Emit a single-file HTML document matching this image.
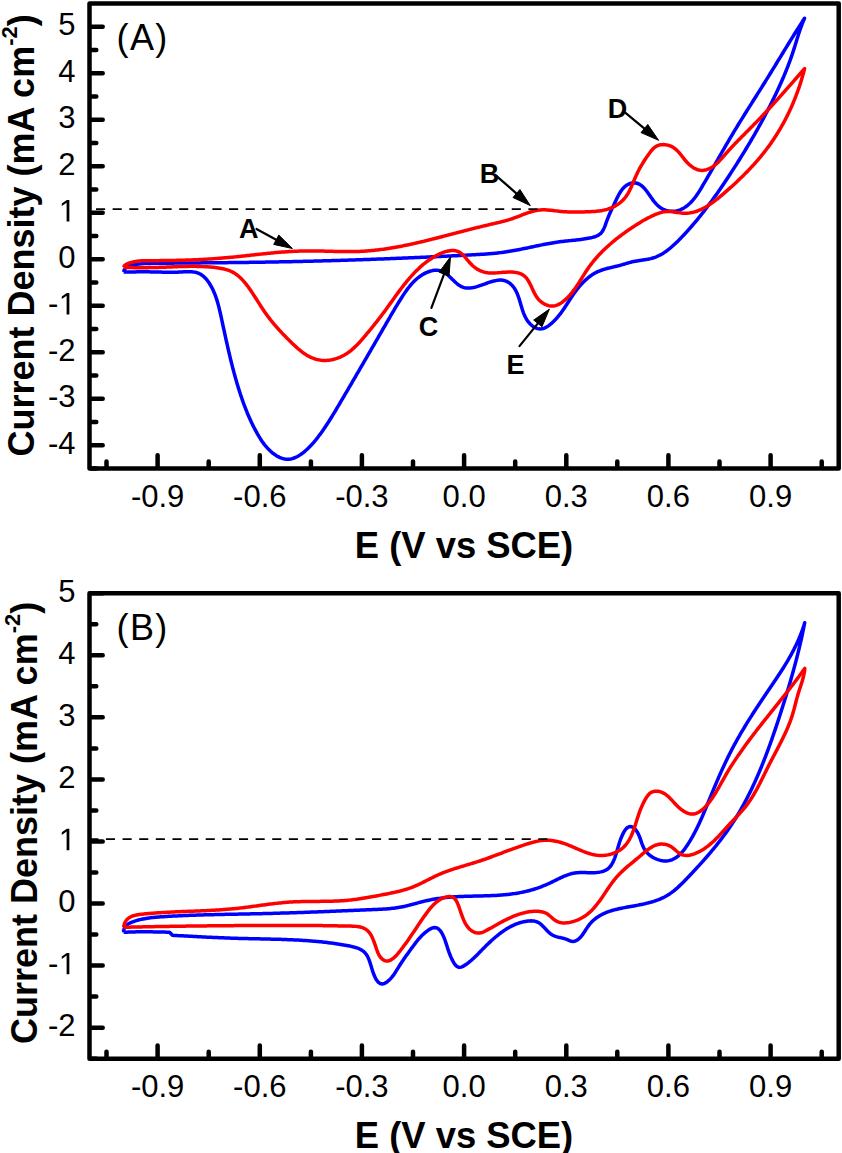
<!DOCTYPE html>
<html><head><meta charset="utf-8"><style>
html,body{margin:0;padding:0;background:#fff;}
svg{display:block;}
text{font-family:"Liberation Sans", sans-serif;fill:#000;}
</style></head><body>
<svg width="842" height="1153" viewBox="0 0 842 1153">
<rect width="842" height="1153" fill="#fff"/>
<path d="M91.5,445.2H102.7M91.5,398.7H102.7M91.5,352.2H102.7M91.5,305.7H102.7M91.5,259.2H102.7M91.5,212.7H102.7M91.5,166.2H102.7M91.5,119.7H102.7M91.5,73.2H102.7M91.5,26.7H102.7M91.5,468.5H96.3M91.5,422.0H96.3M91.5,375.5H96.3M91.5,329.0H96.3M91.5,282.5H96.3M91.5,236.0H96.3M91.5,189.4H96.3M91.5,142.9H96.3M91.5,96.4H96.3M91.5,49.9H96.3M157.6,466.5V455.2M259.8,466.5V455.2M361.9,466.5V455.2M464.1,466.5V455.2M566.3,466.5V455.2M668.4,466.5V455.2M770.6,466.5V455.2M106.5,466.5V461.5M208.7,466.5V461.5M310.9,466.5V461.5M413.0,466.5V461.5M515.2,466.5V461.5M617.3,466.5V461.5M719.5,466.5V461.5M821.7,466.5V461.5" stroke="#000" stroke-width="4.5" stroke-linecap="round" fill="none"/>
<rect x="89.5" y="3.4" width="749.2" height="465.1" fill="none" stroke="#000" stroke-width="4.5" stroke-linejoin="round"/>
<text x="75.6" y="453.9" text-anchor="end" font-size="31">-4</text>
<text x="75.6" y="407.4" text-anchor="end" font-size="31">-3</text>
<text x="75.6" y="360.9" text-anchor="end" font-size="31">-2</text>
<text x="48.04" y="314.4" font-size="31">-</text>
<path transform="translate(58.36,314.4) scale(0.015137,-0.015137)" d="M545,0L545,1237L227,1010L227,1180L560,1409L726,1409L726,0Z" fill="#000"/>
<text x="75.6" y="267.9" text-anchor="end" font-size="31">0</text>
<path transform="translate(58.36,221.4) scale(0.015137,-0.015137)" d="M545,0L545,1237L227,1010L227,1180L560,1409L726,1409L726,0Z" fill="#000"/>
<text x="75.6" y="174.9" text-anchor="end" font-size="31">2</text>
<text x="75.6" y="128.4" text-anchor="end" font-size="31">3</text>
<text x="75.6" y="81.9" text-anchor="end" font-size="31">4</text>
<text x="75.6" y="35.4" text-anchor="end" font-size="31">5</text>
<text x="157.6" y="507.1" text-anchor="middle" font-size="31">-0.9</text>
<text x="259.8" y="507.1" text-anchor="middle" font-size="31">-0.6</text>
<text x="361.9" y="507.1" text-anchor="middle" font-size="31">-0.3</text>
<text x="464.1" y="507.1" text-anchor="middle" font-size="31">0.0</text>
<text x="566.3" y="507.1" text-anchor="middle" font-size="31">0.3</text>
<text x="668.4" y="507.1" text-anchor="middle" font-size="31">0.6</text>
<text x="770.6" y="507.1" text-anchor="middle" font-size="31">0.9</text>
<path d="M123.60,272.00L124.04,270.29 124.78,268.95 125.76,267.92 126.91,267.13 128.19,266.52 129.54,266.01 130.91,265.57 132.30,265.18 133.71,264.84 135.14,264.55 136.59,264.30 138.05,264.09 139.52,263.91 141.00,263.77 142.49,263.65 144.00,263.56 145.51,263.49 147.02,263.44 148.54,263.40 150.07,263.38 151.59,263.36 153.12,263.34 154.64,263.32 156.17,263.30 157.69,263.29 159.21,263.27 160.73,263.25 162.25,263.24 163.77,263.22 165.29,263.21 166.81,263.19 168.33,263.18 169.85,263.16 171.36,263.15 172.88,263.13 174.39,263.12 175.91,263.10 177.42,263.09 178.94,263.07 180.45,263.06 181.96,263.05 183.47,263.03 184.99,263.02 186.50,263.00 188.01,262.99 189.52,262.98 191.03,262.96 192.53,262.95 194.04,262.94 195.55,262.92 197.06,262.91 198.56,262.90 200.07,262.88 201.58,262.87 203.08,262.86 204.59,262.84 206.09,262.83 207.60,262.82 209.10,262.80 210.60,262.79 212.11,262.77 213.61,262.76 215.11,262.75 216.62,262.73 218.12,262.72 219.62,262.70 221.12,262.69 222.63,262.67 224.13,262.66 225.63,262.64 227.13,262.63 228.63,262.61 230.13,262.59 231.63,262.58 233.13,262.56 234.63,262.54 236.13,262.53 237.63,262.51 239.14,262.49 240.64,262.47 242.14,262.46 243.64,262.44 245.14,262.42 246.64,262.40 248.14,262.38 249.64,262.36 251.14,262.34 252.64,262.32 254.14,262.30 255.64,262.28 257.14,262.25 258.64,262.23 260.14,262.21 261.64,262.19 263.14,262.16 264.64,262.14 266.14,262.11 267.64,262.09 269.15,262.06 270.65,262.04 272.15,262.01 273.65,261.98 275.15,261.96 276.65,261.93 278.16,261.90 279.66,261.87 281.16,261.84 282.66,261.81 284.17,261.78 285.67,261.75 287.17,261.72 288.67,261.69 290.18,261.66 291.68,261.63 293.18,261.60 294.69,261.56 296.19,261.53 297.69,261.50 299.20,261.46 300.70,261.43 302.20,261.39 303.71,261.36 305.21,261.32 306.71,261.28 308.22,261.25 309.72,261.21 311.23,261.17 312.73,261.13 314.23,261.10 315.74,261.06 317.24,261.02 318.75,260.98 320.25,260.94 321.76,260.90 323.26,260.86 324.76,260.81 326.27,260.77 327.77,260.73 329.28,260.69 330.78,260.65 332.29,260.60 333.79,260.56 335.30,260.51 336.80,260.47 338.31,260.42 339.81,260.38 341.32,260.33 342.82,260.29 344.32,260.24 345.83,260.19 347.33,260.14 348.84,260.10 350.34,260.05 351.85,260.00 353.35,259.95 354.86,259.90 356.36,259.85 357.87,259.80 359.37,259.75 360.88,259.70 362.38,259.65 363.89,259.59 365.39,259.54 366.90,259.49 368.40,259.44 369.91,259.38 371.41,259.33 372.92,259.27 374.42,259.22 375.93,259.16 377.43,259.11 378.94,259.05 380.44,259.00 381.94,258.94 383.45,258.88 384.95,258.83 386.46,258.77 387.96,258.71 389.47,258.65 390.97,258.59 392.48,258.53 393.98,258.47 395.48,258.41 396.99,258.35 398.49,258.29 400.00,258.23 401.50,258.17 403.00,258.11 404.51,258.04 406.01,257.98 407.52,257.92 409.02,257.85 410.52,257.79 412.03,257.73 413.53,257.66 415.03,257.60 416.54,257.53 418.04,257.47 419.54,257.40 421.05,257.33 422.55,257.27 424.05,257.20 425.56,257.13 427.06,257.06 428.56,256.99 430.06,256.93 431.57,256.86 433.07,256.79 434.57,256.72 436.07,256.65 437.57,256.58 439.08,256.51 440.58,256.43 442.08,256.36 443.58,256.29 445.08,256.22 446.58,256.15 448.08,256.07 449.59,256.00 451.09,255.93 452.59,255.85 454.09,255.78 455.59,255.70 457.09,255.63 458.59,255.55 460.09,255.48 461.59,255.40 463.09,255.32 464.59,255.25 466.09,255.17 467.59,255.09 469.09,255.01 470.59,254.93 472.09,254.86 473.58,254.78 475.08,254.70 476.58,254.61 478.08,254.53 479.58,254.44 481.08,254.35 482.57,254.26 484.07,254.16 485.57,254.06 487.06,253.95 488.56,253.83 490.06,253.71 491.55,253.58 493.05,253.45 494.55,253.30 496.04,253.15 497.54,252.99 499.03,252.81 500.52,252.63 502.02,252.44 503.51,252.23 505.00,252.02 506.50,251.79 507.99,251.56 509.48,251.32 510.97,251.07 512.45,250.81 513.94,250.55 515.43,250.28 516.91,250.00 518.39,249.72 519.88,249.43 521.35,249.14 522.83,248.84 524.31,248.54 525.78,248.24 527.25,247.93 528.72,247.62 530.19,247.31 531.66,247.00 533.13,246.68 534.60,246.37 536.06,246.06 537.53,245.75 539.00,245.44 540.47,245.14 541.93,244.84 543.40,244.55 544.87,244.26 546.35,243.97 547.82,243.69 549.30,243.42 550.77,243.16 552.25,242.91 553.74,242.66 555.22,242.43 556.71,242.20 558.20,241.99 559.70,241.79 561.20,241.60 562.70,241.42 564.20,241.25 565.71,241.09 567.21,240.93 568.72,240.78 570.23,240.62 571.74,240.47 573.25,240.32 574.75,240.16 576.25,239.99 577.75,239.82 579.25,239.64 580.74,239.45 582.23,239.25 583.71,239.04 585.18,238.81 586.65,238.56 588.12,238.29 589.57,238.00 591.02,237.69 592.45,237.35 593.87,236.97 595.25,236.53 596.58,236.02 597.85,235.41 599.05,234.70 600.17,233.87 601.19,232.90 602.10,231.77 602.92,230.50 603.64,229.11 604.29,227.64 604.90,226.11 605.47,224.56 606.02,223.00 606.57,221.48 607.12,219.99 607.69,218.55 608.26,217.13 608.83,215.75 609.42,214.39 610.01,213.04 610.60,211.71 611.21,210.40 611.82,209.09 612.43,207.78 613.06,206.47 613.69,205.15 614.32,203.82 614.97,202.47 615.62,201.10 616.27,199.72 616.94,198.31 617.63,196.91 618.35,195.51 619.10,194.13 619.88,192.78 620.71,191.47 621.59,190.21 622.52,189.02 623.52,187.89 624.59,186.84 625.73,185.89 626.96,185.04 628.27,184.31 629.66,183.71 631.10,183.25 632.57,182.95 634.05,182.84 635.52,182.93 636.94,183.23 638.32,183.73 639.64,184.39 640.89,185.19 642.08,186.11 643.20,187.11 644.24,188.18 645.23,189.31 646.18,190.49 647.09,191.71 647.98,192.96 648.87,194.23 649.76,195.52 650.65,196.81 651.56,198.09 652.48,199.36 653.41,200.60 654.38,201.82 655.37,203.00 656.39,204.12 657.45,205.19 658.56,206.20 659.71,207.13 660.91,207.98 662.17,208.73 663.48,209.40 664.84,209.96 666.24,210.43 667.67,210.80 669.12,211.07 670.59,211.23 672.07,211.30 673.56,211.27 675.04,211.13 676.50,210.88 677.95,210.53 679.37,210.08 680.76,209.53 682.13,208.89 683.46,208.17 684.77,207.37 686.04,206.50 687.28,205.56 688.48,204.57 689.64,203.52 690.77,202.44 691.85,201.31 692.89,200.16 693.89,198.98 694.84,197.78 695.75,196.57 696.63,195.34 697.47,194.10 698.29,192.85 699.08,191.60 699.86,190.33 700.63,189.06 701.39,187.79 702.15,186.51 702.91,185.23 703.67,183.95 704.42,182.67 705.18,181.38 705.93,180.09 706.68,178.80 707.44,177.51 708.19,176.22 708.94,174.92 709.69,173.62 710.43,172.33 711.18,171.03 711.93,169.73 712.68,168.42 713.42,167.12 714.17,165.82 714.92,164.51 715.66,163.21 716.41,161.90 717.16,160.60 717.91,159.29 718.65,157.98 719.40,156.67 720.15,155.37 720.90,154.06 721.65,152.75 722.40,151.45 723.16,150.14 723.91,148.83 724.66,147.53 725.42,146.22 726.18,144.92 726.94,143.62 727.70,142.32 728.46,141.01 729.22,139.71 729.99,138.42 730.76,137.12 731.53,135.82 732.30,134.53 733.07,133.24 733.85,131.95 734.63,130.66 735.41,129.37 736.19,128.09 736.97,126.80 737.76,125.52 738.54,124.23 739.33,122.95 740.12,121.67 740.91,120.39 741.70,119.11 742.50,117.84 743.29,116.56 744.09,115.29 744.88,114.01 745.68,112.74 746.48,111.46 747.28,110.19 748.08,108.92 748.88,107.64 749.68,106.37 750.48,105.10 751.28,103.83 752.08,102.56 752.88,101.29 753.68,100.02 754.48,98.75 755.29,97.48 756.09,96.21 756.89,94.94 757.69,93.67 758.49,92.39 759.29,91.12 760.09,89.85 760.89,88.58 761.69,87.31 762.49,86.03 763.29,84.76 764.09,83.49 764.88,82.21 765.68,80.94 766.47,79.66 767.26,78.38 768.06,77.10 768.85,75.82 769.64,74.54 770.42,73.26 771.21,71.98 772.00,70.70 772.79,69.42 773.57,68.14 774.36,66.85 775.14,65.57 775.92,64.28 776.71,63.00 777.49,61.71 778.27,60.43 779.06,59.15 779.84,57.86 780.62,56.57 781.40,55.29 782.19,54.01 782.97,52.72 783.76,51.44 784.54,50.15 785.32,48.87 786.11,47.58 786.89,46.30 787.68,45.02 788.47,43.74 789.26,42.46 790.05,41.17 790.84,39.89 791.63,38.62 792.42,37.34 793.21,36.06 794.01,34.78 794.81,33.51 795.60,32.23 796.40,30.96 797.20,29.69 798.01,28.42 798.81,27.15 799.62,25.88 800.43,24.61 801.24,23.35 802.05,22.08 802.86,20.82 803.68,19.56 804.50,18.30L803.90,19.69 803.31,21.08 802.74,22.48 802.19,23.88 801.66,25.29 801.14,26.70 800.63,28.11 800.14,29.53 799.65,30.95 799.18,32.38 798.71,33.80 798.25,35.23 797.80,36.66 797.35,38.09 796.90,39.52 796.46,40.96 796.02,42.39 795.58,43.82 795.14,45.26 794.69,46.69 794.24,48.12 793.79,49.55 793.33,50.98 792.86,52.41 792.39,53.83 791.91,55.25 791.42,56.67 790.92,58.09 790.41,59.50 789.90,60.92 789.38,62.33 788.85,63.73 788.32,65.14 787.77,66.54 787.23,67.94 786.67,69.34 786.11,70.74 785.54,72.13 784.97,73.53 784.39,74.92 783.81,76.31 783.22,77.69 782.62,79.07 782.02,80.46 781.41,81.83 780.80,83.21 780.18,84.59 779.56,85.96 778.94,87.33 778.30,88.70 777.67,90.06 777.03,91.43 776.39,92.79 775.74,94.15 775.09,95.51 774.44,96.86 773.78,98.21 773.12,99.57 772.45,100.91 771.78,102.26 771.11,103.61 770.44,104.95 769.76,106.29 769.08,107.63 768.39,108.97 767.71,110.30 767.01,111.63 766.32,112.96 765.62,114.29 764.92,115.62 764.22,116.95 763.51,118.27 762.80,119.59 762.08,120.91 761.37,122.23 760.65,123.55 759.92,124.86 759.20,126.17 758.47,127.48 757.73,128.79 757.00,130.10 756.26,131.41 755.52,132.71 754.78,134.01 754.03,135.31 753.28,136.61 752.53,137.91 751.77,139.21 751.02,140.50 750.25,141.79 749.49,143.09 748.73,144.38 747.96,145.66 747.19,146.95 746.41,148.24 745.63,149.52 744.86,150.80 744.07,152.09 743.29,153.37 742.50,154.64 741.71,155.92 740.92,157.20 740.13,158.47 739.33,159.74 738.53,161.02 737.73,162.29 736.93,163.56 736.12,164.83 735.31,166.09 734.50,167.36 733.69,168.62 732.87,169.89 732.06,171.15 731.24,172.41 730.41,173.67 729.59,174.93 728.76,176.19 727.94,177.44 727.11,178.70 726.27,179.95 725.44,181.21 724.60,182.46 723.76,183.71 722.92,184.96 722.07,186.20 721.22,187.45 720.37,188.69 719.52,189.93 718.66,191.17 717.80,192.40 716.93,193.64 716.06,194.87 715.19,196.10 714.32,197.32 713.44,198.55 712.56,199.77 711.68,200.98 710.79,202.20 709.89,203.41 709.00,204.62 708.10,205.83 707.19,207.03 706.28,208.23 705.37,209.42 704.45,210.62 703.53,211.80 702.61,212.99 701.67,214.17 700.74,215.35 699.80,216.52 698.86,217.69 697.91,218.86 696.95,220.02 695.99,221.18 695.03,222.33 694.06,223.48 693.08,224.62 692.10,225.76 691.12,226.89 690.13,228.02 689.13,229.15 688.13,230.27 687.12,231.38 686.11,232.49 685.09,233.60 684.06,234.70 683.03,235.79 682.00,236.88 680.95,237.96 679.90,239.04 678.85,240.11 677.79,241.17 676.71,242.23 675.63,243.27 674.54,244.30 673.44,245.31 672.33,246.31 671.20,247.29 670.06,248.24 668.91,249.18 667.74,250.08 666.55,250.96 665.34,251.81 664.11,252.63 662.87,253.41 661.60,254.16 660.31,254.87 659.00,255.54 657.66,256.17 656.30,256.76 654.91,257.30 653.50,257.79 652.05,258.23 650.58,258.62 649.08,258.96 647.57,259.27 646.03,259.54 644.48,259.79 642.93,260.03 641.38,260.25 639.82,260.47 638.28,260.70 636.74,260.94 635.22,261.21 633.72,261.50 632.25,261.82 630.80,262.18 629.37,262.57 627.96,262.97 626.55,263.40 625.15,263.82 623.74,264.25 622.34,264.68 620.92,265.09 619.49,265.49 618.04,265.86 616.58,266.22 615.11,266.56 613.64,266.90 612.15,267.24 610.67,267.59 609.19,267.94 607.71,268.30 606.24,268.69 604.78,269.10 603.33,269.54 601.90,270.01 600.49,270.53 599.10,271.08 597.74,271.69 596.40,272.34 595.08,273.05 593.80,273.79 592.53,274.58 591.30,275.40 590.08,276.27 588.89,277.17 587.73,278.11 586.58,279.08 585.47,280.08 584.37,281.11 583.30,282.17 582.25,283.25 581.22,284.36 580.22,285.48 579.24,286.63 578.28,287.79 577.34,288.97 576.42,290.17 575.53,291.37 574.65,292.59 573.78,293.82 572.93,295.05 572.09,296.30 571.26,297.54 570.43,298.79 569.61,300.05 568.80,301.30 567.99,302.56 567.17,303.81 566.36,305.06 565.54,306.30 564.72,307.54 563.89,308.77 563.04,309.99 562.19,311.20 561.32,312.41 560.43,313.60 559.52,314.78 558.57,315.96 557.60,317.13 556.59,318.29 555.54,319.44 554.44,320.59 553.30,321.73 552.11,322.84 550.89,323.91 549.64,324.93 548.36,325.86 547.06,326.70 545.74,327.43 544.40,328.04 543.06,328.50 541.72,328.81 540.37,328.93 539.03,328.87 537.71,328.63 536.40,328.22 535.12,327.66 533.87,326.96 532.67,326.14 531.51,325.21 530.41,324.18 529.36,323.08 528.39,321.91 527.49,320.69 526.66,319.42 525.89,318.11 525.19,316.75 524.53,315.37 523.92,313.95 523.36,312.51 522.83,311.04 522.33,309.56 521.85,308.06 521.40,306.55 520.95,305.03 520.51,303.52 520.07,302.00 519.62,300.50 519.16,299.00 518.68,297.53 518.16,296.07 517.62,294.63 517.04,293.23 516.41,291.86 515.73,290.53 514.98,289.24 514.18,287.99 513.30,286.80 512.34,285.66 511.31,284.59 510.21,283.60 509.05,282.72 507.85,281.95 506.60,281.32 505.33,280.82 504.02,280.47 502.68,280.23 501.32,280.11 499.94,280.10 498.53,280.18 497.10,280.35 495.66,280.60 494.20,280.92 492.72,281.30 491.23,281.73 489.74,282.20 488.23,282.71 486.72,283.24 485.20,283.78 483.69,284.33 482.17,284.87 480.66,285.40 479.14,285.91 477.64,286.39 476.14,286.83 474.66,287.21 473.19,287.54 471.73,287.80 470.29,287.98 468.86,288.08 467.46,288.08 466.08,287.97 464.72,287.76 463.39,287.42 462.09,286.94 460.82,286.33 459.57,285.59 458.35,284.74 457.15,283.79 455.96,282.77 454.79,281.69 453.62,280.57 452.45,279.43 451.29,278.29 450.11,277.15 448.93,276.05 447.73,274.99 446.52,274.00 445.28,273.09 444.02,272.29 442.72,271.60 441.39,271.04 440.03,270.64 438.63,270.37 437.21,270.23 435.77,270.22 434.32,270.32 432.86,270.53 431.41,270.85 429.95,271.25 428.51,271.74 427.09,272.30 425.69,272.93 424.32,273.62 422.99,274.37 421.69,275.16 420.44,275.99 419.22,276.87 418.03,277.78 416.88,278.74 415.76,279.73 414.67,280.75 413.61,281.80 412.58,282.89 411.57,284.00 410.59,285.14 409.63,286.30 408.69,287.48 407.77,288.68 406.87,289.89 405.98,291.12 405.12,292.37 404.26,293.62 403.42,294.88 402.59,296.15 401.76,297.42 400.95,298.70 400.14,299.98 399.34,301.26 398.55,302.54 397.76,303.82 396.98,305.11 396.20,306.40 395.43,307.69 394.66,308.98 393.90,310.27 393.14,311.57 392.38,312.86 391.62,314.16 390.87,315.45 390.12,316.75 389.37,318.05 388.62,319.35 387.87,320.65 387.12,321.94 386.37,323.24 385.62,324.54 384.87,325.84 384.12,327.14 383.37,328.44 382.62,329.74 381.87,331.03 381.12,332.33 380.37,333.63 379.62,334.93 378.87,336.23 378.12,337.53 377.37,338.83 376.62,340.13 375.87,341.43 375.12,342.73 374.36,344.03 373.61,345.33 372.86,346.62 372.11,347.92 371.36,349.22 370.60,350.52 369.85,351.82 369.10,353.12 368.35,354.42 367.59,355.72 366.84,357.02 366.09,358.32 365.33,359.62 364.58,360.92 363.83,362.22 363.07,363.52 362.32,364.82 361.56,366.12 360.81,367.42 360.05,368.72 359.30,370.02 358.54,371.32 357.78,372.62 357.03,373.92 356.27,375.22 355.51,376.52 354.76,377.82 354.00,379.12 353.24,380.41 352.48,381.71 351.72,383.01 350.97,384.31 350.21,385.61 349.45,386.91 348.69,388.21 347.93,389.51 347.17,390.81 346.40,392.11 345.64,393.41 344.88,394.71 344.12,396.01 343.36,397.31 342.59,398.61 341.83,399.90 341.07,401.20 340.30,402.50 339.54,403.80 338.77,405.10 338.01,406.40 337.24,407.70 336.47,408.99 335.70,410.29 334.93,411.58 334.15,412.87 333.37,414.16 332.59,415.44 331.81,416.72 331.02,418.00 330.22,419.27 329.42,420.54 328.62,421.81 327.81,423.07 327.00,424.32 326.18,425.57 325.35,426.81 324.52,428.05 323.67,429.28 322.83,430.50 321.97,431.72 321.10,432.92 320.23,434.12 319.35,435.31 318.46,436.49 317.55,437.66 316.64,438.82 315.71,439.98 314.76,441.12 313.80,442.26 312.81,443.39 311.80,444.51 310.76,445.62 309.69,446.73 308.60,447.82 307.46,448.91 306.30,449.99 305.11,451.04 303.89,452.06 302.64,453.04 301.37,453.98 300.08,454.87 298.77,455.70 297.45,456.46 296.10,457.15 294.75,457.75 293.38,458.26 292.00,458.68 290.61,458.99 289.22,459.19 287.83,459.28 286.43,459.23 285.04,459.07 283.64,458.79 282.26,458.41 280.89,457.92 279.52,457.34 278.18,456.67 276.85,455.92 275.54,455.10 274.26,454.21 273.01,453.27 271.78,452.27 270.59,451.22 269.44,450.13 268.32,449.01 267.25,447.87 266.22,446.71 265.23,445.53 264.28,444.33 263.37,443.12 262.49,441.90 261.64,440.66 260.81,439.41 260.01,438.15 259.23,436.88 258.47,435.60 257.72,434.32 256.98,433.02 256.26,431.72 255.54,430.41 254.84,429.09 254.15,427.77 253.47,426.44 252.80,425.10 252.14,423.75 251.50,422.40 250.86,421.05 250.23,419.69 249.62,418.32 249.01,416.95 248.41,415.57 247.82,414.19 247.25,412.80 246.68,411.41 246.12,410.02 245.56,408.62 245.02,407.21 244.49,405.81 243.96,404.40 243.44,402.98 242.93,401.57 242.43,400.15 241.93,398.73 241.44,397.30 240.96,395.87 240.48,394.45 240.01,393.01 239.55,391.58 239.10,390.15 238.65,388.71 238.20,387.28 237.77,385.84 237.33,384.40 236.91,382.96 236.49,381.52 236.07,380.08 235.66,378.64 235.25,377.19 234.85,375.75 234.45,374.30 234.06,372.86 233.67,371.41 233.29,369.96 232.91,368.51 232.54,367.06 232.17,365.61 231.80,364.16 231.43,362.70 231.07,361.25 230.72,359.79 230.36,358.33 230.01,356.88 229.66,355.42 229.32,353.96 228.98,352.50 228.64,351.04 228.30,349.58 227.96,348.11 227.63,346.65 227.30,345.18 226.97,343.72 226.64,342.25 226.31,340.78 225.99,339.32 225.67,337.85 225.34,336.38 225.02,334.91 224.70,333.43 224.38,331.96 224.06,330.49 223.74,329.01 223.43,327.54 223.11,326.06 222.79,324.59 222.47,323.11 222.15,321.63 221.83,320.15 221.51,318.67 221.19,317.19 220.87,315.71 220.55,314.23 220.22,312.75 219.88,311.28 219.53,309.80 219.18,308.33 218.81,306.87 218.43,305.41 218.04,303.95 217.63,302.50 217.20,301.06 216.75,299.62 216.29,298.19 215.80,296.77 215.28,295.36 214.74,293.97 214.18,292.58 213.58,291.20 212.95,289.84 212.30,288.49 211.61,287.15 210.88,285.83 210.12,284.53 209.32,283.25 208.48,282.00 207.60,280.79 206.68,279.62 205.71,278.51 204.69,277.46 203.63,276.48 202.51,275.57 201.35,274.75 200.13,274.02 198.85,273.38 197.52,272.86 196.13,272.44 194.69,272.12 193.21,271.90 191.68,271.76 190.12,271.68 188.54,271.66 186.94,271.69 185.33,271.75 183.72,271.84 182.11,271.93 180.51,272.02 178.92,272.10 177.36,272.17 175.81,272.22 174.28,272.25 172.76,272.27 171.26,272.28 169.77,272.28 168.28,272.26 166.81,272.24 165.34,272.22 163.88,272.19 162.42,272.15 160.97,272.11 159.51,272.07 158.06,272.03 156.60,271.99 155.14,271.96 153.67,271.93 152.19,271.90 150.71,271.88 149.22,271.86 147.72,271.85 146.22,271.84 144.72,271.84 143.21,271.84 141.69,271.84 140.18,271.85 138.66,271.86 137.15,271.87 135.63,271.88 134.12,271.90 132.60,271.91 131.09,271.93 129.58,271.94 128.08,271.96 126.58,271.97 125.09,271.99 123.60,272.00" stroke="#00f" stroke-width="3.5" fill="none" stroke-linejoin="round"/><path d="M123.60,267.20L124.27,265.88 125.25,264.94 126.42,264.24 127.67,263.67 128.96,263.16 130.29,262.72 131.64,262.33 133.02,261.99 134.43,261.70 135.86,261.46 137.31,261.26 138.78,261.09 140.27,260.96 141.77,260.86 143.29,260.79 144.82,260.73 146.35,260.70 147.89,260.67 149.44,260.66 150.99,260.66 152.53,260.66 154.08,260.65 155.62,260.65 157.16,260.64 158.70,260.63 160.23,260.62 161.76,260.61 163.29,260.60 164.82,260.58 166.34,260.56 167.87,260.54 169.39,260.52 170.91,260.49 172.42,260.47 173.94,260.44 175.45,260.41 176.96,260.37 178.47,260.34 179.98,260.30 181.48,260.26 182.99,260.21 184.49,260.17 185.99,260.12 187.49,260.07 188.99,260.02 190.49,259.96 191.98,259.90 193.48,259.84 194.97,259.78 196.47,259.71 197.96,259.64 199.45,259.57 200.95,259.49 202.44,259.41 203.93,259.33 205.42,259.25 206.91,259.16 208.40,259.07 209.89,258.98 211.38,258.88 212.87,258.78 214.36,258.68 215.85,258.57 217.34,258.46 218.83,258.35 220.32,258.23 221.81,258.11 223.30,257.99 224.79,257.86 226.28,257.73 227.77,257.60 229.27,257.46 230.76,257.32 232.26,257.18 233.75,257.03 235.25,256.88 236.74,256.73 238.24,256.58 239.74,256.42 241.24,256.26 242.74,256.10 244.24,255.93 245.74,255.77 247.24,255.61 248.74,255.44 250.24,255.27 251.74,255.11 253.24,254.94 254.74,254.78 256.24,254.61 257.74,254.45 259.24,254.28 260.74,254.12 262.24,253.96 263.74,253.80 265.24,253.64 266.74,253.49 268.23,253.33 269.73,253.18 271.23,253.03 272.73,252.89 274.22,252.75 275.72,252.61 277.21,252.48 278.71,252.35 280.20,252.23 281.69,252.11 283.18,251.99 284.68,251.88 286.17,251.78 287.66,251.68 289.15,251.58 290.64,251.49 292.13,251.41 293.62,251.33 295.11,251.26 296.60,251.19 298.09,251.13 299.58,251.08 301.08,251.03 302.57,250.99 304.06,250.96 305.56,250.94 307.05,250.92 308.55,250.91 310.05,250.90 311.55,250.91 313.05,250.92 314.55,250.93 316.05,250.95 317.55,250.97 319.05,251.00 320.55,251.03 322.06,251.07 323.56,251.10 325.07,251.14 326.57,251.18 328.08,251.22 329.58,251.26 331.09,251.30 332.59,251.34 334.10,251.38 335.61,251.42 337.11,251.46 338.62,251.49 340.12,251.52 341.63,251.55 343.14,251.57 344.64,251.59 346.15,251.60 347.65,251.60 349.16,251.60 350.66,251.60 352.17,251.58 353.67,251.56 355.17,251.53 356.68,251.50 358.18,251.45 359.68,251.39 361.18,251.32 362.68,251.24 364.18,251.16 365.67,251.06 367.17,250.95 368.67,250.83 370.16,250.71 371.66,250.57 373.15,250.43 374.65,250.27 376.14,250.11 377.63,249.94 379.12,249.76 380.61,249.57 382.10,249.38 383.59,249.17 385.07,248.96 386.56,248.74 388.05,248.52 389.53,248.28 391.02,248.04 392.50,247.80 393.98,247.54 395.46,247.28 396.95,247.02 398.43,246.74 399.90,246.47 401.38,246.18 402.86,245.89 404.34,245.59 405.81,245.29 407.29,244.99 408.76,244.68 410.24,244.36 411.71,244.04 413.18,243.72 414.65,243.39 416.13,243.05 417.59,242.72 419.06,242.38 420.53,242.03 422.00,241.68 423.47,241.33 424.93,240.98 426.40,240.62 427.86,240.26 429.32,239.90 430.79,239.53 432.25,239.17 433.71,238.80 435.17,238.43 436.63,238.05 438.08,237.68 439.54,237.30 441.00,236.93 442.45,236.55 443.91,236.17 445.36,235.79 446.82,235.41 448.27,235.03 449.72,234.65 451.17,234.27 452.62,233.89 454.07,233.51 455.52,233.13 456.97,232.75 458.42,232.37 459.87,231.99 461.32,231.61 462.77,231.24 464.21,230.86 465.66,230.48 467.11,230.11 468.56,229.74 470.01,229.37 471.46,229.00 472.91,228.63 474.36,228.27 475.81,227.90 477.27,227.54 478.72,227.18 480.17,226.83 481.63,226.47 483.09,226.12 484.54,225.77 486.00,225.43 487.46,225.08 488.92,224.74 490.38,224.41 491.84,224.07 493.31,223.74 494.77,223.41 496.24,223.07 497.70,222.73 499.16,222.39 500.62,222.04 502.08,221.67 503.53,221.30 504.99,220.91 506.43,220.51 507.88,220.09 509.32,219.65 510.75,219.20 512.18,218.72 513.60,218.22 515.02,217.70 516.43,217.16 517.84,216.62 519.25,216.07 520.66,215.52 522.06,214.97 523.47,214.43 524.88,213.90 526.29,213.38 527.70,212.88 529.12,212.40 530.54,211.96 531.96,211.54 533.40,211.16 534.84,210.81 536.29,210.52 537.75,210.26 539.22,210.07 540.70,209.92 542.19,209.84 543.69,209.81 545.21,209.84 546.73,209.91 548.25,210.02 549.78,210.16 551.32,210.32 552.85,210.50 554.38,210.69 555.91,210.88 557.44,211.07 558.96,211.24 560.46,211.40 561.96,211.53 563.46,211.65 564.94,211.74 566.42,211.82 567.90,211.88 569.37,211.93 570.84,211.97 572.31,211.99 573.78,212.00 575.26,212.00 576.73,211.99 578.22,211.98 579.70,211.96 581.19,211.94 582.69,211.91 584.20,211.88 585.72,211.84 587.24,211.80 588.77,211.75 590.30,211.69 591.83,211.61 593.36,211.51 594.89,211.40 596.41,211.26 597.93,211.09 599.44,210.90 600.94,210.67 602.43,210.41 603.90,210.11 605.37,209.78 606.81,209.40 608.24,208.97 609.65,208.50 611.04,207.98 612.40,207.40 613.75,206.77 615.06,206.08 616.34,205.34 617.60,204.54 618.81,203.69 619.99,202.78 621.13,201.83 622.23,200.82 623.28,199.76 624.28,198.66 625.22,197.51 626.12,196.32 626.96,195.08 627.76,193.81 628.51,192.51 629.23,191.18 629.92,189.82 630.58,188.44 631.21,187.05 631.83,185.65 632.43,184.23 633.02,182.82 633.61,181.41 634.20,180.00 634.79,178.59 635.39,177.21 636.00,175.84 636.63,174.48 637.27,173.14 637.93,171.81 638.60,170.50 639.28,169.19 639.99,167.90 640.70,166.61 641.44,165.33 642.19,164.06 642.96,162.79 643.75,161.53 644.56,160.27 645.38,159.00 646.23,157.74 647.10,156.48 647.98,155.21 648.89,153.94 649.82,152.67 650.78,151.41 651.77,150.20 652.82,149.05 653.92,147.99 655.09,147.06 656.33,146.26 657.65,145.62 659.04,145.14 660.48,144.81 661.96,144.63 663.46,144.58 664.97,144.67 666.48,144.88 667.97,145.21 669.44,145.65 670.85,146.20 672.21,146.85 673.49,147.60 674.70,148.44 675.84,149.35 676.92,150.33 677.96,151.37 678.96,152.46 679.93,153.60 680.88,154.77 681.82,155.96 682.76,157.16 683.71,158.37 684.68,159.58 685.67,160.77 686.70,161.94 687.78,163.08 688.90,164.18 690.06,165.23 691.27,166.21 692.51,167.12 693.79,167.93 695.11,168.66 696.46,169.27 697.83,169.76 699.23,170.13 700.66,170.35 702.11,170.42 703.57,170.32 705.05,170.08 706.52,169.70 707.96,169.20 709.38,168.59 710.75,167.90 712.06,167.14 713.32,166.31 714.52,165.42 715.69,164.48 716.81,163.49 717.90,162.46 718.96,161.40 720.00,160.31 721.02,159.19 722.02,158.06 723.02,156.92 724.01,155.78 725.01,154.63 726.01,153.50 727.01,152.37 728.02,151.25 729.04,150.13 730.06,149.02 731.08,147.91 732.11,146.81 733.14,145.72 734.18,144.63 735.22,143.54 736.26,142.46 737.31,141.38 738.36,140.31 739.41,139.24 740.46,138.17 741.51,137.10 742.57,136.03 743.63,134.97 744.68,133.90 745.74,132.84 746.80,131.78 747.86,130.71 748.91,129.65 749.97,128.59 751.03,127.52 752.08,126.46 753.13,125.39 754.18,124.32 755.23,123.25 756.28,122.17 757.32,121.10 758.37,120.02 759.41,118.93 760.44,117.85 761.48,116.76 762.51,115.67 763.54,114.57 764.57,113.48 765.60,112.38 766.62,111.28 767.64,110.18 768.67,109.08 769.68,107.97 770.70,106.86 771.72,105.75 772.73,104.64 773.74,103.53 774.75,102.41 775.76,101.30 776.77,100.18 777.78,99.06 778.78,97.94 779.79,96.82 780.79,95.70 781.79,94.57 782.79,93.45 783.79,92.32 784.79,91.20 785.78,90.07 786.78,88.94 787.77,87.81 788.77,86.68 789.76,85.55 790.75,84.42 791.75,83.29 792.74,82.16 793.73,81.03 794.72,79.90 795.71,78.77 796.70,77.64 797.69,76.51 798.67,75.38 799.66,74.25 800.65,73.12 801.64,71.99 802.63,70.86 803.61,69.73 804.60,68.60L804.23,70.06 803.84,71.53 803.45,72.98 803.05,74.44 802.64,75.89 802.23,77.34 801.80,78.79 801.36,80.23 800.92,81.67 800.47,83.11 800.00,84.54 799.53,85.97 799.05,87.40 798.56,88.82 798.06,90.24 797.56,91.66 797.04,93.07 796.51,94.48 795.98,95.88 795.44,97.28 794.88,98.68 794.32,100.07 793.75,101.46 793.17,102.85 792.58,104.23 791.99,105.60 791.38,106.97 790.77,108.34 790.14,109.71 789.51,111.07 788.87,112.42 788.21,113.77 787.55,115.12 786.88,116.46 786.21,117.80 785.52,119.13 784.82,120.45 784.12,121.78 783.40,123.09 782.68,124.41 781.95,125.71 781.20,127.02 780.45,128.31 779.69,129.60 778.92,130.89 778.15,132.17 777.36,133.45 776.56,134.72 775.76,135.99 774.94,137.24 774.12,138.50 773.29,139.75 772.44,140.99 771.59,142.23 770.73,143.46 769.86,144.69 768.99,145.90 768.10,147.12 767.20,148.33 766.30,149.53 765.38,150.72 764.46,151.91 763.53,153.10 762.59,154.27 761.64,155.44 760.68,156.61 759.71,157.77 758.74,158.92 757.76,160.07 756.77,161.20 755.77,162.34 754.77,163.46 753.76,164.59 752.75,165.70 751.72,166.81 750.70,167.91 749.67,169.00 748.63,170.09 747.59,171.18 746.54,172.25 745.49,173.32 744.43,174.38 743.37,175.44 742.31,176.49 741.24,177.54 740.17,178.57 739.10,179.60 738.02,180.63 736.94,181.65 735.86,182.66 734.77,183.67 733.68,184.67 732.59,185.67 731.49,186.67 730.38,187.66 729.27,188.66 728.15,189.65 727.03,190.64 725.90,191.63 724.76,192.62 723.61,193.61 722.46,194.61 721.30,195.60 720.12,196.58 718.94,197.56 717.75,198.54 716.55,199.50 715.34,200.45 714.12,201.38 712.90,202.29 711.66,203.18 710.41,204.06 709.15,204.90 707.88,205.72 706.60,206.51 705.31,207.27 704.00,207.99 702.69,208.68 701.36,209.32 700.02,209.93 698.67,210.49 697.31,211.01 695.93,211.48 694.54,211.90 693.14,212.26 691.73,212.57 690.30,212.83 688.86,213.02 687.41,213.15 685.94,213.22 684.45,213.22 682.96,213.15 681.45,213.02 679.93,212.84 678.40,212.63 676.87,212.40 675.33,212.16 673.80,211.94 672.27,211.74 670.75,211.58 669.24,211.47 667.74,211.44 666.26,211.49 664.79,211.64 663.34,211.89 661.91,212.22 660.50,212.63 659.10,213.10 657.70,213.61 656.32,214.15 654.94,214.72 653.57,215.32 652.21,215.94 650.86,216.58 649.51,217.24 648.17,217.93 646.84,218.63 645.52,219.35 644.20,220.09 642.88,220.84 641.58,221.61 640.28,222.39 638.98,223.18 637.69,223.99 636.41,224.80 635.13,225.62 633.86,226.45 632.59,227.28 631.33,228.13 630.07,228.97 628.82,229.82 627.58,230.68 626.34,231.55 625.10,232.42 623.88,233.30 622.66,234.19 621.45,235.08 620.24,235.98 619.05,236.89 617.86,237.81 616.67,238.73 615.50,239.67 614.34,240.61 613.18,241.56 612.03,242.52 610.90,243.49 609.77,244.47 608.65,245.46 607.54,246.45 606.44,247.46 605.35,248.48 604.28,249.51 603.21,250.55 602.15,251.60 601.11,252.66 600.08,253.73 599.06,254.81 598.05,255.91 597.05,257.01 596.07,258.13 595.10,259.26 594.14,260.41 593.19,261.56 592.26,262.73 591.34,263.91 590.44,265.11 589.55,266.32 588.68,267.54 587.82,268.78 586.97,270.02 586.13,271.29 585.31,272.56 584.49,273.83 583.68,275.12 582.87,276.40 582.07,277.70 581.26,278.99 580.45,280.28 579.64,281.57 578.82,282.85 577.99,284.13 577.15,285.40 576.30,286.66 575.44,287.91 574.56,289.15 573.66,290.38 572.75,291.58 571.81,292.77 570.84,293.94 569.85,295.09 568.83,296.21 567.78,297.31 566.70,298.39 565.59,299.43 564.44,300.44 563.26,301.41 562.04,302.33 560.79,303.17 559.52,303.93 558.22,304.60 556.89,305.15 555.54,305.59 554.17,305.89 552.78,306.05 551.38,306.05 549.97,305.91 548.56,305.64 547.17,305.23 545.80,304.70 544.45,304.05 543.15,303.30 541.89,302.44 540.69,301.49 539.56,300.45 538.50,299.33 537.52,298.14 536.62,296.88 535.78,295.57 535.00,294.21 534.26,292.82 533.56,291.39 532.88,289.95 532.21,288.49 531.54,287.04 530.87,285.59 530.18,284.18 529.47,282.80 528.74,281.46 527.96,280.19 527.14,278.99 526.26,277.87 525.31,276.84 524.30,275.92 523.20,275.12 522.03,274.43 520.79,273.84 519.50,273.34 518.14,272.94 516.74,272.62 515.29,272.37 513.80,272.20 512.28,272.08 510.74,272.03 509.18,272.02 507.61,272.05 506.03,272.13 504.45,272.22 502.87,272.35 501.30,272.48 499.74,272.62 498.18,272.75 496.64,272.87 495.10,272.96 493.58,273.02 492.08,273.04 490.59,273.02 489.12,272.93 487.67,272.77 486.23,272.55 484.82,272.24 483.44,271.87 482.07,271.42 480.73,270.90 479.42,270.30 478.14,269.63 476.88,268.89 475.66,268.08 474.46,267.19 473.30,266.24 472.17,265.21 471.07,264.11 470.01,262.95 468.96,261.75 467.94,260.53 466.92,259.31 465.90,258.10 464.87,256.92 463.83,255.79 462.76,254.74 461.67,253.77 460.55,252.90 459.37,252.16 458.15,251.56 456.88,251.10 455.56,250.78 454.21,250.59 452.82,250.51 451.40,250.55 449.95,250.70 448.49,250.94 447.02,251.26 445.54,251.67 444.05,252.15 442.58,252.69 441.11,253.28 439.65,253.93 438.22,254.61 436.81,255.32 435.43,256.06 434.08,256.82 432.76,257.61 431.46,258.42 430.18,259.26 428.93,260.11 427.70,260.99 426.49,261.89 425.30,262.80 424.13,263.74 422.98,264.69 421.85,265.67 420.73,266.65 419.63,267.66 418.54,268.68 417.46,269.71 416.40,270.76 415.35,271.82 414.32,272.89 413.29,273.98 412.28,275.07 411.28,276.18 410.28,277.30 409.30,278.43 408.33,279.57 407.36,280.72 406.41,281.88 405.46,283.05 404.52,284.22 403.59,285.40 402.66,286.59 401.74,287.78 400.83,288.98 399.92,290.18 399.02,291.39 398.12,292.61 397.23,293.82 396.34,295.04 395.45,296.26 394.56,297.48 393.68,298.71 392.80,299.93 391.92,301.16 391.04,302.38 390.16,303.61 389.28,304.83 388.41,306.05 387.53,307.27 386.64,308.49 385.76,309.70 384.88,310.91 383.99,312.11 383.10,313.31 382.20,314.50 381.30,315.69 380.40,316.88 379.50,318.06 378.59,319.24 377.68,320.41 376.76,321.59 375.84,322.76 374.91,323.93 373.98,325.09 373.04,326.26 372.10,327.42 371.16,328.58 370.21,329.74 369.25,330.91 368.29,332.07 367.33,333.23 366.35,334.39 365.37,335.55 364.39,336.72 363.40,337.88 362.40,339.04 361.39,340.19 360.37,341.33 359.34,342.47 358.29,343.58 357.23,344.69 356.16,345.77 355.06,346.83 353.95,347.87 352.82,348.88 351.68,349.87 350.51,350.82 349.31,351.75 348.10,352.63 346.86,353.48 345.59,354.29 344.30,355.05 342.98,355.77 341.63,356.44 340.26,357.07 338.86,357.64 337.45,358.17 336.02,358.64 334.58,359.06 333.13,359.43 331.66,359.74 330.19,360.00 328.72,360.19 327.25,360.33 325.77,360.41 324.30,360.43 322.84,360.38 321.38,360.27 319.93,360.10 318.50,359.86 317.08,359.55 315.68,359.17 314.30,358.73 312.94,358.23 311.59,357.67 310.26,357.05 308.94,356.38 307.65,355.65 306.36,354.89 305.09,354.08 303.84,353.22 302.60,352.33 301.37,351.41 300.16,350.45 298.96,349.47 297.78,348.46 296.60,347.43 295.44,346.38 294.29,345.32 293.16,344.24 292.03,343.16 290.91,342.06 289.81,340.97 288.71,339.87 287.63,338.78 286.55,337.69 285.48,336.60 284.43,335.51 283.38,334.42 282.34,333.34 281.32,332.25 280.30,331.16 279.29,330.07 278.29,328.97 277.30,327.87 276.33,326.77 275.36,325.66 274.40,324.55 273.45,323.42 272.52,322.30 271.59,321.16 270.67,320.01 269.77,318.86 268.87,317.69 267.99,316.51 267.11,315.33 266.25,314.12 265.39,312.91 264.54,311.69 263.70,310.45 262.87,309.21 262.04,307.96 261.22,306.70 260.40,305.43 259.58,304.16 258.76,302.88 257.95,301.60 257.13,300.32 256.31,299.04 255.48,297.75 254.65,296.47 253.82,295.18 252.98,293.90 252.13,292.62 251.27,291.35 250.40,290.08 249.52,288.82 248.63,287.56 247.72,286.32 246.80,285.10 245.86,283.89 244.90,282.71 243.92,281.55 242.92,280.42 241.89,279.32 240.84,278.26 239.77,277.24 238.66,276.26 237.53,275.33 236.36,274.45 235.16,273.62 233.93,272.85 232.66,272.14 231.35,271.49 230.01,270.90 228.63,270.36 227.23,269.88 225.80,269.45 224.35,269.07 222.87,268.73 221.38,268.42 219.88,268.16 218.37,267.92 216.84,267.71 215.32,267.52 213.79,267.35 212.26,267.20 210.74,267.06 209.22,266.94 207.70,266.82 206.19,266.73 204.68,266.64 203.16,266.57 201.66,266.51 200.15,266.45 198.64,266.41 197.14,266.38 195.64,266.36 194.14,266.35 192.64,266.34 191.14,266.35 189.65,266.36 188.15,266.38 186.65,266.40 185.16,266.43 183.67,266.47 182.17,266.51 180.68,266.55 179.19,266.60 177.70,266.65 176.20,266.71 174.71,266.76 173.22,266.82 171.72,266.88 170.23,266.95 168.74,267.01 167.24,267.07 165.74,267.13 164.25,267.19 162.75,267.25 161.25,267.30 159.75,267.36 158.25,267.41 156.74,267.46 155.24,267.50 153.73,267.54 152.22,267.57 150.71,267.60 149.20,267.62 147.69,267.64 146.17,267.65 144.66,267.66 143.14,267.67 141.63,267.67 140.11,267.67 138.60,267.67 137.09,267.66 135.58,267.65 134.07,267.64 132.57,267.62 131.06,267.60 129.56,267.59 128.07,267.57 126.57,267.54 125.08,267.52 123.60,267.50" stroke="#f00" stroke-width="3.5" fill="none" stroke-linejoin="round"/><line x1="96.0" y1="209.1" x2="537.8" y2="209.1" stroke="#000" stroke-width="1.9" stroke-dasharray="9.1 7.53"/><text x="248.7" y="237.8" text-anchor="middle" font-size="27" font-weight="bold">A</text><line x1="256.5" y1="229.0" x2="278.0" y2="240.7" stroke="#000" stroke-width="2.2" stroke-linecap="round"/><path d="M292.4,248.5L273.7,244.4L278.8,235.1Z" fill="#000" stroke="#000" stroke-width="1" stroke-linejoin="round"/><text x="489.6" y="183.3" text-anchor="middle" font-size="27" font-weight="bold">B</text><line x1="496.6" y1="176.1" x2="518.0" y2="194.8" stroke="#000" stroke-width="2.2" stroke-linecap="round"/><path d="M530.3,205.6L513.0,197.5L519.9,189.5Z" fill="#000" stroke="#000" stroke-width="1" stroke-linejoin="round"/><text x="428.5" y="336.3" text-anchor="middle" font-size="27" font-weight="bold">C</text><line x1="431.4" y1="307.9" x2="444.8" y2="272.2" stroke="#000" stroke-width="2.2" stroke-linecap="round"/><path d="M450.5,256.8L449.0,275.9L439.1,272.2Z" fill="#000" stroke="#000" stroke-width="1" stroke-linejoin="round"/><text x="617.4" y="117.8" text-anchor="middle" font-size="27" font-weight="bold">D</text><line x1="624.9" y1="112.4" x2="646.0" y2="129.8" stroke="#000" stroke-width="2.2" stroke-linecap="round"/><path d="M658.6,140.3L641.0,132.6L647.8,124.5Z" fill="#000" stroke="#000" stroke-width="1" stroke-linejoin="round"/><text x="515.5" y="373.6" text-anchor="middle" font-size="27" font-weight="bold">E</text><line x1="519.5" y1="346.1" x2="539.1" y2="321.9" stroke="#000" stroke-width="2.2" stroke-linecap="round"/><path d="M549.4,309.1L542.0,326.7L533.7,320.1Z" fill="#000" stroke="#000" stroke-width="1" stroke-linejoin="round"/><text x="116.6" y="49.9" font-size="36" textLength="50.6" lengthAdjust="spacing">(A)</text>
<path d="M91.5,1027.7H102.7M91.5,965.6H102.7M91.5,903.5H102.7M91.5,841.5H102.7M91.5,779.4H102.7M91.5,717.3H102.7M91.5,655.3H102.7M91.5,593.2H102.7M91.5,1058.7H96.3M91.5,996.6H96.3M91.5,934.6H96.3M91.5,872.5H96.3M91.5,810.4H96.3M91.5,748.4H96.3M91.5,686.3H96.3M91.5,624.2H96.3M157.6,1056.7V1045.4M259.8,1056.7V1045.4M361.9,1056.7V1045.4M464.1,1056.7V1045.4M566.3,1056.7V1045.4M668.4,1056.7V1045.4M770.6,1056.7V1045.4M106.5,1056.7V1051.7M208.7,1056.7V1051.7M310.9,1056.7V1051.7M413.0,1056.7V1051.7M515.2,1056.7V1051.7M617.3,1056.7V1051.7M719.5,1056.7V1051.7M821.7,1056.7V1051.7" stroke="#000" stroke-width="4.5" stroke-linecap="round" fill="none"/>
<rect x="89.5" y="593.2" width="749.2" height="465.5" fill="none" stroke="#000" stroke-width="4.5" stroke-linejoin="round"/>
<text x="75.6" y="1036.4" text-anchor="end" font-size="31">-2</text>
<text x="48.04" y="974.3" font-size="31">-</text>
<path transform="translate(58.36,974.3) scale(0.015137,-0.015137)" d="M545,0L545,1237L227,1010L227,1180L560,1409L726,1409L726,0Z" fill="#000"/>
<text x="75.6" y="912.2" text-anchor="end" font-size="31">0</text>
<path transform="translate(58.36,850.2) scale(0.015137,-0.015137)" d="M545,0L545,1237L227,1010L227,1180L560,1409L726,1409L726,0Z" fill="#000"/>
<text x="75.6" y="788.1" text-anchor="end" font-size="31">2</text>
<text x="75.6" y="726.0" text-anchor="end" font-size="31">3</text>
<text x="75.6" y="664.0" text-anchor="end" font-size="31">4</text>
<text x="75.6" y="601.9" text-anchor="end" font-size="31">5</text>
<text x="157.6" y="1097.3" text-anchor="middle" font-size="31">-0.9</text>
<text x="259.8" y="1097.3" text-anchor="middle" font-size="31">-0.6</text>
<text x="361.9" y="1097.3" text-anchor="middle" font-size="31">-0.3</text>
<text x="464.1" y="1097.3" text-anchor="middle" font-size="31">0.0</text>
<text x="566.3" y="1097.3" text-anchor="middle" font-size="31">0.3</text>
<text x="668.4" y="1097.3" text-anchor="middle" font-size="31">0.6</text>
<text x="770.6" y="1097.3" text-anchor="middle" font-size="31">0.9</text>
<path d="M123.60,932.30L123.69,930.61 124.03,929.11 124.60,927.77 125.36,926.58 126.30,925.53 127.39,924.61 128.60,923.79 129.91,923.07 131.29,922.43 132.72,921.86 134.18,921.33 135.64,920.85 137.11,920.41 138.58,920.00 140.05,919.62 141.52,919.28 143.00,918.97 144.48,918.68 145.97,918.42 147.45,918.19 148.94,917.97 150.43,917.78 151.92,917.61 153.42,917.45 154.91,917.30 156.41,917.17 157.91,917.05 159.40,916.94 160.90,916.83 162.40,916.73 163.90,916.64 165.40,916.54 166.90,916.45 168.40,916.36 169.90,916.27 171.40,916.19 172.90,916.11 174.40,916.03 175.90,915.95 177.40,915.88 178.90,915.81 180.40,915.74 181.90,915.67 183.40,915.60 184.90,915.54 186.41,915.47 187.91,915.41 189.41,915.36 190.91,915.30 192.41,915.24 193.92,915.19 195.42,915.14 196.92,915.09 198.42,915.04 199.93,914.99 201.43,914.95 202.93,914.90 204.43,914.86 205.94,914.82 207.44,914.78 208.94,914.74 210.45,914.70 211.95,914.66 213.45,914.63 214.96,914.59 216.46,914.56 217.96,914.52 219.47,914.49 220.97,914.46 222.48,914.43 223.98,914.39 225.48,914.36 226.99,914.33 228.49,914.30 229.99,914.27 231.50,914.24 233.00,914.22 234.51,914.19 236.01,914.16 237.51,914.13 239.02,914.10 240.52,914.07 242.02,914.04 243.53,914.02 245.03,913.99 246.54,913.96 248.04,913.93 249.54,913.90 251.05,913.87 252.55,913.84 254.05,913.81 255.56,913.77 257.06,913.74 258.56,913.71 260.07,913.68 261.57,913.64 263.07,913.61 264.57,913.57 266.08,913.53 267.58,913.49 269.08,913.46 270.59,913.42 272.09,913.38 273.59,913.34 275.09,913.29 276.59,913.25 278.10,913.21 279.60,913.16 281.10,913.12 282.60,913.08 284.11,913.03 285.61,912.98 287.11,912.94 288.61,912.89 290.11,912.84 291.61,912.79 293.12,912.74 294.62,912.69 296.12,912.64 297.62,912.59 299.12,912.54 300.63,912.49 302.13,912.43 303.63,912.38 305.13,912.33 306.63,912.27 308.13,912.22 309.64,912.16 311.14,912.11 312.64,912.05 314.14,912.00 315.64,911.94 317.14,911.88 318.65,911.83 320.15,911.77 321.65,911.71 323.15,911.65 324.65,911.59 326.16,911.53 327.66,911.47 329.16,911.41 330.66,911.35 332.16,911.29 333.67,911.23 335.17,911.17 336.67,911.11 338.17,911.05 339.68,910.99 341.18,910.93 342.68,910.87 344.18,910.81 345.69,910.74 347.19,910.68 348.69,910.62 350.20,910.56 351.70,910.50 353.20,910.43 354.71,910.37 356.21,910.31 357.71,910.25 359.22,910.18 360.72,910.12 362.23,910.06 363.73,910.00 365.23,909.93 366.74,909.87 368.24,909.81 369.75,909.75 371.25,909.69 372.76,909.62 374.26,909.56 375.77,909.49 377.27,909.43 378.78,909.35 380.28,909.28 381.78,909.19 383.28,909.10 384.78,909.00 386.28,908.89 387.77,908.77 389.27,908.64 390.76,908.49 392.25,908.33 393.74,908.15 395.23,907.96 396.71,907.76 398.19,907.53 399.66,907.28 401.14,907.02 402.61,906.73 404.07,906.42 405.54,906.09 407.00,905.74 408.45,905.39 409.91,905.01 411.37,904.63 412.82,904.25 414.28,903.85 415.73,903.46 417.19,903.07 418.64,902.67 420.10,902.29 421.56,901.90 423.02,901.53 424.48,901.17 425.95,900.82 427.42,900.49 428.90,900.18 430.37,899.88 431.85,899.59 433.33,899.32 434.82,899.06 436.30,898.81 437.79,898.58 439.28,898.37 440.77,898.16 442.26,897.97 443.75,897.79 445.25,897.62 446.74,897.47 448.23,897.32 449.73,897.19 451.22,897.07 452.72,896.96 454.21,896.86 455.71,896.76 457.20,896.68 458.70,896.60 460.19,896.53 461.69,896.47 463.18,896.41 464.68,896.36 466.18,896.31 467.67,896.27 469.17,896.23 470.67,896.19 472.17,896.16 473.67,896.12 475.17,896.09 476.68,896.06 478.18,896.03 479.69,895.99 481.19,895.95 482.70,895.92 484.21,895.87 485.72,895.83 487.22,895.78 488.73,895.73 490.24,895.67 491.75,895.61 493.26,895.54 494.77,895.46 496.28,895.38 497.79,895.29 499.29,895.19 500.80,895.08 502.30,894.96 503.80,894.84 505.31,894.70 506.80,894.55 508.30,894.39 509.79,894.22 511.29,894.04 512.77,893.84 514.26,893.63 515.74,893.41 517.22,893.17 518.70,892.92 520.17,892.65 521.64,892.37 523.10,892.07 524.57,891.75 526.02,891.41 527.47,891.06 528.92,890.69 530.36,890.30 531.80,889.89 533.23,889.46 534.66,889.02 536.08,888.56 537.50,888.08 538.91,887.58 540.32,887.06 541.72,886.53 543.12,885.98 544.51,885.42 545.90,884.84 547.28,884.24 548.65,883.63 550.03,883.00 551.39,882.35 552.75,881.69 554.11,881.02 555.47,880.35 556.82,879.67 558.17,879.00 559.53,878.33 560.89,877.68 562.25,877.05 563.62,876.44 565.00,875.86 566.39,875.32 567.78,874.81 569.19,874.34 570.61,873.92 572.04,873.56 573.49,873.25 574.96,873.00 576.45,872.81 577.95,872.69 579.46,872.61 580.99,872.57 582.52,872.56 584.07,872.58 585.61,872.61 587.17,872.65 588.72,872.68 590.27,872.71 591.81,872.71 593.35,872.69 594.88,872.63 596.40,872.53 597.91,872.37 599.40,872.15 600.88,871.86 602.33,871.50 603.75,871.04 605.12,870.49 606.42,869.82 607.63,869.04 608.75,868.13 609.77,867.10 610.69,865.95 611.52,864.72 612.28,863.43 612.97,862.11 613.60,860.76 614.19,859.40 614.73,858.03 615.23,856.64 615.70,855.25 616.14,853.84 616.57,852.42 616.98,850.99 617.39,849.55 617.80,848.10 618.22,846.65 618.65,845.18 619.10,843.70 619.57,842.21 620.08,840.72 620.62,839.21 621.21,837.70 621.85,836.18 622.55,834.65 623.31,833.13 624.13,831.66 625.01,830.28 625.95,829.05 626.93,828.02 627.98,827.23 629.07,826.72 630.20,826.53 631.35,826.66 632.49,827.09 633.61,827.80 634.67,828.72 635.67,829.79 636.58,830.98 637.39,832.23 638.11,833.54 638.75,834.90 639.34,836.30 639.88,837.72 640.40,839.17 640.90,840.63 641.40,842.10 641.92,843.56 642.47,845.00 643.06,846.43 643.72,847.82 644.45,849.17 645.28,850.48 646.20,851.72 647.23,852.91 648.36,854.02 649.58,855.07 650.86,856.04 652.22,856.94 653.63,857.76 655.08,858.49 656.57,859.13 658.08,859.68 659.60,860.14 661.13,860.50 662.66,860.76 664.16,860.91 665.64,860.95 667.09,860.88 668.49,860.70 669.85,860.41 671.17,860.02 672.46,859.53 673.70,858.96 674.91,858.29 676.09,857.55 677.23,856.73 678.34,855.84 679.42,854.89 680.47,853.87 681.49,852.81 682.48,851.69 683.45,850.53 684.39,849.33 685.31,848.09 686.20,846.83 687.07,845.55 687.93,844.24 688.76,842.93 689.57,841.61 690.37,840.28 691.15,838.95 691.92,837.62 692.67,836.29 693.41,834.95 694.13,833.61 694.84,832.27 695.53,830.93 696.22,829.58 696.89,828.23 697.55,826.88 698.20,825.53 698.85,824.18 699.48,822.82 700.10,821.46 700.72,820.10 701.32,818.74 701.93,817.38 702.52,816.01 703.11,814.65 703.69,813.28 704.27,811.91 704.85,810.53 705.42,809.16 705.99,807.79 706.56,806.41 707.12,805.03 707.68,803.65 708.25,802.27 708.81,800.89 709.38,799.51 709.94,798.12 710.51,796.74 711.08,795.35 711.65,793.96 712.23,792.58 712.80,791.19 713.38,789.80 713.96,788.41 714.54,787.02 715.13,785.63 715.72,784.24 716.31,782.86 716.90,781.47 717.50,780.08 718.10,778.69 718.70,777.31 719.31,775.92 719.92,774.54 720.53,773.16 721.15,771.78 721.77,770.40 722.40,769.02 723.02,767.65 723.66,766.27 724.30,764.90 724.94,763.53 725.58,762.17 726.23,760.80 726.89,759.44 727.55,758.09 728.21,756.73 728.88,755.38 729.56,754.03 730.23,752.68 730.92,751.34 731.61,750.01 732.30,748.67 733.01,747.34 733.71,746.01 734.42,744.69 735.14,743.37 735.86,742.06 736.59,740.74 737.32,739.43 738.05,738.13 738.79,736.82 739.54,735.52 740.29,734.23 741.04,732.93 741.80,731.64 742.56,730.35 743.33,729.07 744.10,727.78 744.87,726.50 745.65,725.23 746.44,723.95 747.22,722.67 748.01,721.40 748.80,720.13 749.60,718.87 750.40,717.60 751.20,716.34 752.01,715.07 752.81,713.81 753.63,712.55 754.44,711.30 755.26,710.04 756.08,708.79 756.90,707.53 757.72,706.28 758.55,705.03 759.38,703.78 760.21,702.53 761.05,701.28 761.88,700.04 762.72,698.79 763.56,697.54 764.40,696.30 765.24,695.05 766.09,693.81 766.93,692.56 767.78,691.32 768.62,690.07 769.47,688.83 770.32,687.58 771.16,686.34 772.01,685.09 772.85,683.84 773.70,682.60 774.54,681.35 775.38,680.09 776.21,678.84 777.04,677.59 777.87,676.33 778.70,675.07 779.52,673.81 780.34,672.55 781.16,671.29 781.97,670.02 782.77,668.75 783.57,667.47 784.36,666.20 785.15,664.92 785.93,663.64 786.70,662.35 787.47,661.06 788.23,659.76 788.98,658.47 789.72,657.16 790.46,655.86 791.18,654.55 791.90,653.23 792.61,651.91 793.30,650.59 793.99,649.25 794.67,647.92 795.33,646.58 795.99,645.23 796.63,643.88 797.27,642.52 797.89,641.16 798.49,639.79 799.09,638.41 799.67,637.03 800.24,635.64 800.79,634.24 801.33,632.83 801.86,631.42 802.37,630.01 802.87,628.58 803.35,627.15 803.82,625.71 804.27,624.26 804.70,622.80L804.41,624.28 804.12,625.77 803.82,627.25 803.52,628.73 803.22,630.20 802.91,631.68 802.60,633.15 802.28,634.63 801.97,636.10 801.64,637.57 801.32,639.04 800.98,640.50 800.65,641.97 800.31,643.43 799.97,644.90 799.63,646.36 799.28,647.82 798.93,649.28 798.57,650.74 798.21,652.19 797.85,653.65 797.49,655.10 797.12,656.56 796.75,658.01 796.37,659.46 796.00,660.91 795.62,662.36 795.23,663.81 794.85,665.26 794.46,666.70 794.07,668.15 793.67,669.59 793.27,671.04 792.87,672.48 792.47,673.92 792.06,675.36 791.66,676.80 791.24,678.24 790.83,679.68 790.42,681.12 790.00,682.56 789.58,684.00 789.15,685.44 788.73,686.87 788.30,688.31 787.87,689.74 787.44,691.18 787.00,692.61 786.57,694.05 786.13,695.48 785.69,696.91 785.25,698.35 784.80,699.78 784.36,701.21 783.91,702.65 783.46,704.08 783.01,705.51 782.55,706.94 782.10,708.37 781.64,709.81 781.18,711.24 780.72,712.67 780.26,714.10 779.80,715.53 779.33,716.96 778.87,718.40 778.40,719.83 777.93,721.26 777.46,722.69 776.99,724.12 776.51,725.55 776.03,726.98 775.55,728.41 775.07,729.84 774.59,731.27 774.10,732.69 773.61,734.12 773.12,735.54 772.63,736.97 772.13,738.39 771.63,739.82 771.13,741.24 770.62,742.66 770.11,744.08 769.60,745.50 769.09,746.91 768.57,748.33 768.05,749.74 767.52,751.16 766.99,752.57 766.46,753.98 765.93,755.39 765.39,756.79 764.84,758.20 764.30,759.60 763.75,761.00 763.19,762.40 762.63,763.80 762.07,765.20 761.51,766.59 760.93,767.98 760.36,769.37 759.78,770.76 759.20,772.14 758.61,773.53 758.01,774.91 757.41,776.29 756.81,777.66 756.20,779.03 755.59,780.40 754.97,781.77 754.35,783.14 753.72,784.50 753.09,785.86 752.45,787.21 751.81,788.57 751.16,789.92 750.50,791.26 749.84,792.61 749.18,793.95 748.50,795.28 747.83,796.62 747.14,797.95 746.45,799.28 745.76,800.60 745.05,801.92 744.35,803.24 743.63,804.55 742.91,805.86 742.18,807.17 741.45,808.47 740.71,809.77 739.96,811.06 739.21,812.35 738.45,813.64 737.68,814.92 736.91,816.20 736.12,817.47 735.34,818.74 734.54,820.00 733.74,821.27 732.93,822.52 732.11,823.77 731.28,825.02 730.45,826.26 729.61,827.50 728.76,828.73 727.91,829.96 727.05,831.19 726.18,832.41 725.30,833.62 724.42,834.83 723.53,836.04 722.63,837.24 721.72,838.44 720.81,839.64 719.90,840.83 718.98,842.01 718.05,843.20 717.11,844.38 716.17,845.55 715.23,846.73 714.28,847.89 713.32,849.06 712.36,850.22 711.39,851.38 710.42,852.54 709.44,853.69 708.46,854.84 707.47,855.98 706.48,857.13 705.49,858.27 704.49,859.40 703.49,860.54 702.48,861.67 701.47,862.80 700.45,863.93 699.44,865.05 698.41,866.17 697.39,867.29 696.36,868.41 695.33,869.53 694.29,870.64 693.26,871.75 692.22,872.86 691.17,873.97 690.13,875.07 689.08,876.18 688.03,877.28 686.98,878.38 685.93,879.48 684.87,880.57 683.81,881.66 682.74,882.73 681.66,883.80 680.58,884.85 679.49,885.89 678.38,886.91 677.27,887.92 676.15,888.90 675.01,889.86 673.86,890.80 672.69,891.71 671.51,892.59 670.31,893.44 669.09,894.26 667.86,895.05 666.60,895.80 665.32,896.52 664.03,897.20 662.72,897.84 661.38,898.46 660.04,899.04 658.67,899.60 657.29,900.12 655.90,900.62 654.49,901.10 653.07,901.55 651.63,901.98 650.19,902.39 648.73,902.78 647.27,903.15 645.79,903.51 644.31,903.85 642.82,904.18 641.32,904.50 639.82,904.80 638.31,905.10 636.80,905.39 635.28,905.67 633.76,905.94 632.24,906.22 630.72,906.49 629.20,906.76 627.68,907.03 626.16,907.31 624.65,907.60 623.14,907.89 621.63,908.19 620.14,908.50 618.65,908.83 617.17,909.17 615.70,909.53 614.25,909.91 612.80,910.31 611.37,910.73 609.96,911.18 608.56,911.66 607.18,912.16 605.82,912.70 604.48,913.27 603.16,913.88 601.86,914.52 600.58,915.20 599.33,915.92 598.11,916.69 596.91,917.50 595.74,918.36 594.60,919.27 593.49,920.23 592.41,921.24 591.36,922.30 590.35,923.42 589.38,924.61 588.43,925.85 587.53,927.14 586.64,928.48 585.76,929.83 584.89,931.19 584.01,932.54 583.11,933.86 582.19,935.13 581.22,936.35 580.21,937.49 579.14,938.53 578.00,939.46 576.78,940.26 575.51,940.89 574.20,941.29 572.87,941.43 571.53,941.26 570.18,940.85 568.82,940.28 567.42,939.67 566.00,939.12 564.53,938.65 563.04,938.25 561.54,937.89 560.03,937.55 558.53,937.20 557.05,936.82 555.61,936.38 554.20,935.87 552.85,935.25 551.56,934.50 550.33,933.63 549.16,932.65 548.03,931.59 546.94,930.47 545.86,929.32 544.80,928.16 543.73,927.01 542.65,925.91 541.56,924.86 540.42,923.91 539.25,923.06 538.02,922.34 536.73,921.78 535.38,921.36 533.98,921.07 532.55,920.90 531.09,920.84 529.61,920.88 528.12,921.00 526.63,921.19 525.15,921.44 523.68,921.74 522.22,922.09 520.79,922.48 519.36,922.92 517.96,923.39 516.57,923.91 515.19,924.46 513.83,925.06 512.49,925.69 511.15,926.35 509.84,927.05 508.53,927.77 507.24,928.53 505.96,929.32 504.70,930.14 503.45,930.98 502.21,931.85 500.98,932.74 499.77,933.65 498.56,934.59 497.37,935.54 496.19,936.51 495.02,937.50 493.86,938.50 492.71,939.52 491.57,940.55 490.44,941.59 489.32,942.64 488.21,943.70 487.11,944.76 486.01,945.83 484.93,946.90 483.85,947.98 482.78,949.06 481.72,950.13 480.67,951.21 479.62,952.28 478.58,953.35 477.54,954.41 476.49,955.46 475.44,956.50 474.39,957.53 473.31,958.55 472.22,959.54 471.11,960.52 469.97,961.48 468.80,962.42 467.60,963.33 466.36,964.21 465.09,965.07 463.77,965.89 462.42,966.60 461.08,967.13 459.76,967.37 458.51,967.24 457.33,966.71 456.22,965.86 455.18,964.74 454.22,963.42 453.33,961.96 452.50,960.43 451.75,958.89 451.07,957.39 450.44,955.94 449.87,954.53 449.35,953.15 448.85,951.78 448.39,950.43 447.93,949.07 447.49,947.69 447.04,946.30 446.57,944.87 446.09,943.39 445.58,941.86 445.03,940.29 444.44,938.71 443.82,937.15 443.14,935.62 442.42,934.15 441.65,932.77 440.83,931.50 439.95,930.36 439.00,929.38 438.00,928.59 436.92,928.01 435.78,927.66 434.56,927.56 433.27,927.74 431.92,928.17 430.53,928.81 429.14,929.61 427.75,930.53 426.40,931.54 425.10,932.59 423.87,933.66 422.70,934.75 421.59,935.84 420.53,936.95 419.51,938.07 418.54,939.20 417.59,940.34 416.67,941.49 415.77,942.65 414.88,943.82 414.00,945.00 413.12,946.18 412.24,947.37 411.36,948.56 410.48,949.76 409.61,950.97 408.73,952.18 407.86,953.40 406.99,954.62 406.12,955.85 405.26,957.08 404.40,958.32 403.55,959.56 402.71,960.80 401.87,962.05 401.04,963.31 400.22,964.56 399.41,965.82 398.60,967.09 397.81,968.35 397.03,969.62 396.24,970.89 395.45,972.16 394.62,973.42 393.76,974.67 392.86,975.91 391.89,977.13 390.85,978.34 389.72,979.53 388.52,980.67 387.26,981.71 385.98,982.61 384.68,983.32 383.40,983.79 382.16,983.97 380.99,983.83 379.87,983.37 378.83,982.64 377.85,981.68 376.94,980.52 376.10,979.21 375.32,977.79 374.61,976.31 373.96,974.78 373.37,973.22 372.81,971.63 372.29,970.03 371.80,968.42 371.32,966.82 370.84,965.23 370.35,963.66 369.86,962.12 369.33,960.62 368.78,959.18 368.18,957.78 367.53,956.46 366.81,955.21 366.02,954.05 365.15,952.98 364.19,952.01 363.15,951.14 362.03,950.35 360.84,949.65 359.59,949.02 358.29,948.45 356.93,947.95 355.54,947.49 354.10,947.09 352.64,946.72 351.16,946.38 349.66,946.07 348.15,945.77 346.64,945.49 345.14,945.22 343.63,944.95 342.12,944.69 340.61,944.44 339.11,944.20 337.60,943.96 336.09,943.74 334.59,943.52 333.08,943.31 331.58,943.10 330.08,942.90 328.57,942.71 327.07,942.53 325.57,942.35 324.06,942.18 322.56,942.01 321.06,941.86 319.56,941.70 318.06,941.56 316.56,941.41 315.05,941.28 313.55,941.15 312.05,941.02 310.55,940.90 309.05,940.79 307.55,940.68 306.06,940.57 304.56,940.47 303.06,940.38 301.56,940.28 300.06,940.20 298.56,940.11 297.06,940.03 295.57,939.96 294.07,939.88 292.57,939.82 291.07,939.75 289.57,939.69 288.08,939.63 286.58,939.57 285.08,939.52 283.58,939.46 282.08,939.41 280.59,939.37 279.09,939.32 277.59,939.28 276.09,939.24 274.60,939.20 273.10,939.16 271.60,939.13 270.10,939.09 268.60,939.06 267.11,939.02 265.61,938.99 264.11,938.96 262.61,938.93 261.11,938.90 259.61,938.87 258.11,938.84 256.61,938.81 255.11,938.78 253.61,938.75 252.11,938.72 250.61,938.68 249.11,938.65 247.61,938.62 246.11,938.58 244.61,938.55 243.11,938.51 241.61,938.47 240.11,938.43 238.60,938.39 237.10,938.35 235.60,938.30 234.09,938.26 232.59,938.21 231.08,938.15 229.58,938.10 228.08,938.05 226.57,937.99 225.07,937.93 223.56,937.87 222.06,937.81 220.55,937.75 219.04,937.69 217.54,937.62 216.03,937.55 214.53,937.49 213.02,937.42 211.52,937.35 210.01,937.28 208.51,937.20 207.00,937.13 205.50,937.06 203.99,936.98 202.49,936.91 200.99,936.83 199.48,936.75 197.98,936.67 196.48,936.60 194.97,936.52 193.47,936.44 191.97,936.36 190.47,936.28 188.97,936.20 187.47,936.11 185.97,936.03 184.47,935.95 182.97,935.87 181.47,935.79 179.98,935.71 178.48,935.63 176.98,935.54 175.49,935.46 173.99,935.38 172.50,935.30 169.50,932.20 167.92,932.16 166.34,932.13 164.75,932.09 163.17,932.06 161.59,932.02 160.00,931.99 158.42,931.96 156.84,931.93 155.26,931.90 153.67,931.88 152.09,931.86 150.51,931.84 148.92,931.82 147.34,931.81 145.76,931.80 144.17,931.80 142.59,931.80 141.01,931.81 139.43,931.82 137.84,931.84 136.26,931.86 134.68,931.89 133.09,931.93 131.51,931.97 129.93,932.02 128.35,932.08 126.76,932.14 125.18,932.22 123.60,932.30" stroke="#00f" stroke-width="3.5" fill="none" stroke-linejoin="round"/><path d="M123.60,927.30L123.93,925.51 124.40,923.90 125.00,922.45 125.72,921.17 126.56,920.03 127.50,919.04 128.53,918.17 129.65,917.41 130.86,916.76 132.13,916.21 133.46,915.75 134.85,915.36 136.29,915.03 137.76,914.76 139.26,914.53 140.78,914.34 142.32,914.17 143.85,914.01 145.39,913.86 146.92,913.72 148.45,913.58 149.98,913.45 151.51,913.32 153.04,913.20 154.56,913.08 156.09,912.97 157.61,912.86 159.13,912.75 160.65,912.65 162.17,912.56 163.68,912.47 165.20,912.38 166.71,912.30 168.22,912.21 169.74,912.14 171.25,912.06 172.75,911.99 174.26,911.92 175.77,911.85 177.28,911.78 178.78,911.72 180.28,911.66 181.79,911.60 183.29,911.53 184.79,911.48 186.29,911.42 187.79,911.36 189.29,911.30 190.79,911.24 192.28,911.18 193.78,911.13 195.28,911.07 196.77,911.01 198.27,910.95 199.76,910.89 201.26,910.82 202.75,910.76 204.24,910.69 205.73,910.63 207.23,910.56 208.72,910.48 210.21,910.41 211.70,910.33 213.19,910.25 214.68,910.17 216.17,910.08 217.66,909.99 219.15,909.89 220.64,909.79 222.13,909.69 223.62,909.58 225.12,909.47 226.61,909.36 228.10,909.23 229.59,909.11 231.08,908.97 232.57,908.84 234.06,908.69 235.55,908.54 237.04,908.39 238.53,908.22 240.03,908.05 241.52,907.88 243.01,907.70 244.51,907.52 246.00,907.33 247.49,907.13 248.99,906.94 250.48,906.74 251.98,906.54 253.47,906.34 254.97,906.13 256.46,905.93 257.96,905.72 259.46,905.51 260.95,905.31 262.45,905.10 263.95,904.90 265.44,904.70 266.94,904.50 268.44,904.30 269.94,904.11 271.43,903.92 272.93,903.74 274.43,903.56 275.93,903.38 277.43,903.21 278.93,903.05 280.43,902.89 281.93,902.75 283.43,902.60 284.92,902.47 286.42,902.34 287.92,902.23 289.42,902.12 290.92,902.02 292.42,901.94 293.92,901.86 295.43,901.79 296.93,901.73 298.43,901.68 299.93,901.63 301.43,901.59 302.93,901.55 304.43,901.52 305.93,901.50 307.43,901.48 308.93,901.46 310.43,901.45 311.93,901.43 313.43,901.42 314.93,901.41 316.43,901.40 317.93,901.39 319.43,901.38 320.93,901.37 322.43,901.35 323.93,901.34 325.43,901.32 326.93,901.30 328.43,901.27 329.93,901.24 331.43,901.20 332.93,901.16 334.43,901.11 335.93,901.05 337.42,900.98 338.92,900.91 340.42,900.83 341.92,900.74 343.41,900.64 344.91,900.52 346.41,900.40 347.90,900.26 349.40,900.12 350.90,899.96 352.39,899.79 353.89,899.61 355.38,899.42 356.87,899.21 358.37,899.01 359.86,898.79 361.35,898.56 362.84,898.33 364.34,898.09 365.83,897.84 367.31,897.59 368.80,897.33 370.29,897.06 371.78,896.79 373.26,896.52 374.75,896.25 376.23,895.97 377.72,895.68 379.20,895.40 380.68,895.12 382.16,894.83 383.64,894.54 385.12,894.25 386.59,893.97 388.07,893.67 389.54,893.38 391.01,893.07 392.48,892.77 393.94,892.45 395.40,892.12 396.86,891.79 398.31,891.44 399.76,891.08 401.20,890.71 402.64,890.32 404.08,889.92 405.51,889.50 406.93,889.06 408.35,888.60 409.76,888.12 411.16,887.62 412.56,887.09 413.95,886.54 415.33,885.96 416.70,885.36 418.07,884.75 419.44,884.11 420.80,883.46 422.15,882.79 423.51,882.12 424.86,881.43 426.21,880.74 427.56,880.05 428.91,879.36 430.26,878.68 431.62,877.99 432.98,877.32 434.34,876.65 435.70,876.00 437.07,875.36 438.45,874.75 439.83,874.14 441.22,873.56 442.62,872.99 444.02,872.44 445.42,871.90 446.83,871.38 448.24,870.87 449.66,870.37 451.08,869.88 452.51,869.40 453.93,868.93 455.36,868.46 456.80,868.01 458.23,867.56 459.67,867.12 461.10,866.68 462.54,866.24 463.98,865.81 465.42,865.38 466.86,864.94 468.30,864.51 469.74,864.08 471.18,863.65 472.62,863.21 474.06,862.77 475.49,862.33 476.92,861.88 478.35,861.42 479.78,860.96 481.21,860.49 482.63,860.01 484.05,859.52 485.47,859.03 486.88,858.53 488.30,858.02 489.71,857.51 491.12,856.99 492.53,856.47 493.93,855.95 495.34,855.42 496.75,854.89 498.15,854.36 499.56,853.83 500.96,853.30 502.37,852.76 503.77,852.23 505.18,851.70 506.59,851.17 508.00,850.64 509.40,850.11 510.82,849.59 512.23,849.07 513.64,848.55 515.06,848.04 516.48,847.53 517.90,847.03 519.32,846.53 520.75,846.04 522.17,845.56 523.61,845.09 525.04,844.62 526.48,844.17 527.93,843.72 529.37,843.28 530.82,842.86 532.28,842.46 533.74,842.07 535.20,841.72 536.66,841.39 538.13,841.09 539.60,840.84 541.07,840.62 542.54,840.45 544.01,840.32 545.49,840.25 546.96,840.23 548.44,840.26 549.92,840.36 551.39,840.50 552.87,840.69 554.34,840.93 555.81,841.21 557.28,841.54 558.75,841.90 560.21,842.30 561.67,842.73 563.13,843.19 564.57,843.68 566.02,844.20 567.46,844.73 568.89,845.29 570.31,845.87 571.73,846.46 573.14,847.06 574.55,847.67 575.95,848.28 577.35,848.89 578.75,849.50 580.15,850.10 581.54,850.68 582.94,851.25 584.34,851.80 585.75,852.32 587.16,852.82 588.57,853.29 589.99,853.72 591.41,854.12 592.84,854.47 594.29,854.78 595.74,855.03 597.20,855.24 598.67,855.38 600.15,855.47 601.65,855.49 603.16,855.44 604.69,855.33 606.21,855.14 607.73,854.89 609.25,854.58 610.75,854.20 612.23,853.75 613.68,853.24 615.11,852.67 616.49,852.04 617.84,851.35 619.14,850.60 620.38,849.79 621.57,848.92 622.69,847.99 623.75,847.01 624.75,845.97 625.70,844.89 626.60,843.76 627.45,842.59 628.25,841.38 629.01,840.13 629.73,838.85 630.42,837.53 631.07,836.19 631.68,834.82 632.27,833.42 632.84,832.01 633.38,830.57 633.90,829.12 634.41,827.66 634.90,826.19 635.38,824.71 635.86,823.23 636.32,821.74 636.79,820.26 637.26,818.78 637.73,817.31 638.20,815.85 638.69,814.40 639.19,812.97 639.70,811.55 640.23,810.15 640.78,808.76 641.36,807.38 641.96,806.01 642.59,804.64 643.25,803.27 643.94,801.89 644.67,800.52 645.44,799.13 646.25,797.77 647.11,796.46 648.04,795.24 649.03,794.13 650.09,793.17 651.24,792.39 652.46,791.81 653.75,791.42 655.09,791.20 656.47,791.15 657.87,791.26 659.28,791.51 660.68,791.91 662.05,792.42 663.39,793.05 664.68,793.79 665.90,794.62 667.08,795.53 668.22,796.51 669.32,797.55 670.41,798.64 671.48,799.77 672.54,800.93 673.61,802.11 674.69,803.29 675.79,804.46 676.93,805.62 678.10,806.74 679.30,807.83 680.53,808.87 681.78,809.85 683.05,810.75 684.34,811.57 685.64,812.30 686.95,812.91 688.27,813.41 689.58,813.78 690.90,814.01 692.20,814.08 693.50,814.00 694.78,813.77 696.05,813.40 697.30,812.90 698.54,812.27 699.76,811.54 700.96,810.71 702.14,809.78 703.30,808.78 704.44,807.70 705.55,806.56 706.64,805.37 707.69,804.14 708.72,802.87 709.72,801.59 710.69,800.28 711.62,798.98 712.53,797.68 713.40,796.37 714.24,795.07 715.06,793.78 715.86,792.48 716.63,791.18 717.39,789.89 718.14,788.60 718.87,787.31 719.59,786.02 720.31,784.74 721.02,783.45 721.72,782.17 722.43,780.89 723.14,779.61 723.86,778.33 724.58,777.05 725.31,775.77 726.05,774.50 726.80,773.23 727.56,771.96 728.32,770.69 729.10,769.42 729.88,768.16 730.67,766.90 731.47,765.64 732.27,764.38 733.08,763.12 733.90,761.86 734.73,760.61 735.56,759.36 736.40,758.11 737.24,756.87 738.09,755.62 738.95,754.38 739.81,753.14 740.67,751.90 741.54,750.67 742.42,749.43 743.30,748.20 744.18,746.97 745.07,745.75 745.96,744.53 746.86,743.30 747.76,742.09 748.66,740.87 749.56,739.66 750.47,738.45 751.38,737.24 752.29,736.04 753.21,734.84 754.13,733.64 755.05,732.44 755.97,731.25 756.89,730.05 757.81,728.87 758.74,727.68 759.67,726.49 760.60,725.31 761.53,724.13 762.46,722.95 763.39,721.77 764.32,720.59 765.26,719.42 766.19,718.24 767.13,717.07 768.06,715.90 769.00,714.73 769.94,713.55 770.87,712.38 771.81,711.21 772.75,710.04 773.69,708.87 774.62,707.71 775.56,706.54 776.50,705.37 777.43,704.20 778.37,703.03 779.30,701.86 780.24,700.69 781.17,699.51 782.10,698.34 783.03,697.17 783.96,695.99 784.89,694.82 785.82,693.64 786.74,692.46 787.67,691.28 788.59,690.10 789.51,688.91 790.43,687.73 791.35,686.54 792.26,685.35 793.18,684.16 794.09,682.96 794.99,681.77 795.90,680.57 796.80,679.36 797.70,678.16 798.60,676.95 799.50,675.74 800.39,674.52 801.28,673.31 802.16,672.09 803.04,670.86 803.92,669.63 804.80,668.40L804.65,669.94 804.45,671.46 804.21,672.96 803.92,674.44 803.60,675.91 803.25,677.36 802.87,678.81 802.47,680.24 802.04,681.67 801.60,683.09 801.14,684.51 800.68,685.93 800.21,687.35 799.75,688.76 799.28,690.19 798.82,691.61 798.38,693.05 797.95,694.49 797.53,695.94 797.13,697.40 796.73,698.86 796.35,700.33 795.97,701.80 795.59,703.27 795.21,704.75 794.84,706.22 794.45,707.69 794.06,709.16 793.66,710.63 793.25,712.08 792.83,713.54 792.39,714.98 791.93,716.41 791.45,717.84 790.96,719.26 790.46,720.67 789.93,722.07 789.40,723.47 788.85,724.86 788.29,726.24 787.71,727.62 787.13,728.99 786.53,730.36 785.92,731.72 785.30,733.07 784.67,734.43 784.03,735.78 783.39,737.12 782.73,738.46 782.07,739.80 781.40,741.14 780.73,742.48 780.05,743.81 779.37,745.14 778.68,746.47 777.99,747.80 777.29,749.13 776.59,750.46 775.89,751.79 775.19,753.12 774.49,754.45 773.79,755.78 773.08,757.11 772.38,758.45 771.68,759.79 770.98,761.13 770.29,762.47 769.60,763.82 768.91,765.17 768.22,766.52 767.54,767.88 766.87,769.24 766.19,770.60 765.52,771.96 764.84,773.33 764.17,774.69 763.50,776.06 762.82,777.42 762.14,778.78 761.46,780.14 760.78,781.50 760.09,782.85 759.40,784.20 758.70,785.55 757.99,786.89 757.28,788.22 756.56,789.55 755.83,790.87 755.09,792.18 754.34,793.48 753.58,794.77 752.81,796.06 752.02,797.33 751.23,798.59 750.42,799.84 749.59,801.08 748.75,802.31 747.89,803.52 747.02,804.72 746.13,805.90 745.22,807.07 744.29,808.22 743.34,809.36 742.38,810.48 741.40,811.59 740.41,812.69 739.40,813.79 738.39,814.87 737.37,815.95 736.34,817.03 735.31,818.11 734.28,819.19 733.24,820.27 732.21,821.36 731.18,822.45 730.15,823.55 729.13,824.66 728.11,825.78 727.09,826.90 726.08,828.03 725.07,829.16 724.05,830.28 723.03,831.41 722.01,832.53 720.99,833.65 719.96,834.76 718.92,835.86 717.88,836.95 716.82,838.03 715.76,839.10 714.68,840.15 713.60,841.19 712.49,842.20 711.38,843.20 710.24,844.17 709.09,845.12 707.93,846.05 706.74,846.95 705.53,847.82 704.30,848.66 703.05,849.47 701.77,850.24 700.47,850.98 699.14,851.68 697.78,852.35 696.40,852.97 694.98,853.55 693.54,854.08 692.09,854.54 690.62,854.92 689.15,855.21 687.69,855.39 686.24,855.45 684.81,855.37 683.40,855.14 682.04,854.75 680.72,854.18 679.44,853.42 678.21,852.51 677.00,851.50 675.80,850.44 674.60,849.38 673.38,848.36 672.13,847.39 670.83,846.52 669.47,845.77 668.05,845.16 666.58,844.68 665.09,844.34 663.58,844.13 662.09,844.05 660.62,844.10 659.18,844.27 657.77,844.56 656.40,844.95 655.05,845.44 653.73,846.02 652.42,846.68 651.14,847.42 649.88,848.22 648.64,849.07 647.41,849.98 646.19,850.92 644.99,851.90 643.79,852.90 642.60,853.91 641.41,854.93 640.23,855.96 639.05,856.97 637.86,857.97 636.68,858.95 635.50,859.93 634.32,860.90 633.15,861.86 631.98,862.82 630.81,863.78 629.65,864.74 628.51,865.70 627.37,866.67 626.24,867.64 625.12,868.61 624.01,869.60 622.92,870.60 621.85,871.61 620.78,872.64 619.74,873.69 618.71,874.75 617.70,875.84 616.72,876.95 615.75,878.08 614.80,879.24 613.87,880.41 612.95,881.61 612.05,882.82 611.16,884.04 610.28,885.28 609.40,886.53 608.54,887.79 607.68,889.05 606.83,890.32 605.98,891.59 605.13,892.86 604.27,894.13 603.42,895.40 602.56,896.66 601.70,897.92 600.83,899.16 599.94,900.40 599.05,901.62 598.15,902.83 597.23,904.02 596.30,905.19 595.35,906.34 594.38,907.47 593.39,908.57 592.38,909.65 591.34,910.70 590.28,911.72 589.19,912.70 588.07,913.65 586.92,914.57 585.74,915.45 584.53,916.28 583.28,917.08 582.00,917.83 580.69,918.53 579.34,919.19 577.97,919.81 576.57,920.37 575.15,920.89 573.70,921.36 572.23,921.78 570.74,922.14 569.24,922.45 567.72,922.69 566.21,922.86 564.70,922.94 563.20,922.93 561.72,922.81 560.28,922.56 558.87,922.19 557.51,921.68 556.21,921.01 554.96,920.20 553.75,919.29 552.56,918.29 551.40,917.27 550.23,916.24 549.05,915.25 547.85,914.34 546.61,913.53 545.31,912.87 543.97,912.35 542.59,911.95 541.17,911.65 539.72,911.44 538.24,911.31 536.74,911.24 535.23,911.24 533.70,911.30 532.17,911.42 530.63,911.59 529.09,911.81 527.56,912.07 526.04,912.37 524.54,912.71 523.05,913.08 521.58,913.49 520.13,913.92 518.69,914.38 517.27,914.87 515.87,915.38 514.47,915.92 513.09,916.48 511.72,917.06 510.36,917.67 509.00,918.29 507.66,918.92 506.33,919.58 505.00,920.25 503.67,920.93 502.35,921.62 501.03,922.32 499.72,923.04 498.41,923.76 497.10,924.48 495.79,925.21 494.48,925.95 493.16,926.68 491.84,927.42 490.52,928.16 489.20,928.89 487.87,929.62 486.53,930.35 485.18,931.07 483.82,931.75 482.45,932.35 481.05,932.80 479.62,933.05 478.17,933.09 476.71,932.91 475.26,932.55 473.85,932.01 472.49,931.31 471.21,930.47 470.01,929.50 468.92,928.43 467.90,927.26 466.98,926.01 466.12,924.70 465.34,923.34 464.61,921.95 463.95,920.55 463.33,919.14 462.76,917.75 462.23,916.36 461.72,914.96 461.22,913.56 460.74,912.14 460.25,910.70 459.75,909.22 459.23,907.71 458.68,906.17 458.09,904.60 457.44,903.07 456.73,901.62 455.94,900.28 455.05,899.10 454.06,898.12 452.95,897.38 451.73,896.89 450.43,896.62 449.06,896.56 447.64,896.67 446.21,896.95 444.76,897.36 443.34,897.89 441.95,898.51 440.61,899.21 439.32,899.99 438.08,900.83 436.87,901.74 435.70,902.70 434.57,903.72 433.48,904.79 432.42,905.90 431.38,907.04 430.38,908.22 429.40,909.42 428.44,910.64 427.50,911.87 426.58,913.12 425.67,914.37 424.78,915.62 423.90,916.86 423.03,918.10 422.17,919.34 421.31,920.58 420.47,921.82 419.63,923.05 418.79,924.29 417.96,925.52 417.14,926.75 416.32,927.98 415.49,929.20 414.67,930.43 413.85,931.65 413.03,932.88 412.20,934.10 411.37,935.32 410.54,936.54 409.70,937.76 408.86,938.98 408.01,940.21 407.15,941.43 406.28,942.65 405.40,943.87 404.51,945.09 403.60,946.31 402.69,947.53 401.76,948.76 400.81,949.98 399.85,951.21 398.87,952.43 397.87,953.64 396.84,954.83 395.76,955.98 394.64,957.08 393.47,958.11 392.23,959.04 390.96,959.85 389.66,960.48 388.35,960.90 387.05,961.07 385.77,960.95 384.53,960.55 383.34,959.90 382.22,959.06 381.19,958.05 380.27,956.91 379.44,955.68 378.71,954.35 378.04,952.96 377.43,951.50 376.87,950.00 376.33,948.47 375.80,946.93 375.28,945.38 374.75,943.83 374.20,942.30 373.64,940.80 373.06,939.33 372.44,937.90 371.78,936.52 371.07,935.20 370.31,933.95 369.49,932.78 368.60,931.70 367.64,930.72 366.60,929.84 365.47,929.08 364.26,928.43 362.97,927.89 361.61,927.43 360.20,927.06 358.73,926.77 357.22,926.54 355.67,926.37 354.10,926.25 352.51,926.17 350.91,926.11 349.31,926.07 347.71,926.05 346.13,926.02 344.57,926.00 343.01,925.97 341.47,925.94 339.94,925.92 338.42,925.89 336.91,925.86 335.41,925.84 333.92,925.81 332.43,925.78 330.95,925.76 329.47,925.73 327.99,925.71 326.52,925.68 325.05,925.66 323.57,925.64 322.09,925.62 320.61,925.60 319.13,925.58 317.65,925.56 316.17,925.54 314.69,925.53 313.20,925.51 311.71,925.50 310.22,925.49 308.73,925.47 307.24,925.46 305.75,925.45 304.25,925.44 302.76,925.43 301.26,925.43 299.76,925.42 298.26,925.41 296.76,925.41 295.26,925.40 293.76,925.40 292.26,925.39 290.75,925.39 289.25,925.39 287.74,925.39 286.24,925.39 284.73,925.39 283.22,925.39 281.71,925.39 280.21,925.39 278.70,925.39 277.19,925.40 275.68,925.40 274.17,925.40 272.66,925.41 271.15,925.41 269.63,925.42 268.12,925.42 266.61,925.43 265.10,925.43 263.59,925.44 262.08,925.45 260.57,925.46 259.05,925.46 257.54,925.47 256.03,925.48 254.52,925.49 253.01,925.50 251.50,925.51 249.99,925.52 248.48,925.53 246.97,925.54 245.46,925.55 243.95,925.56 242.44,925.57 240.93,925.58 239.43,925.59 237.92,925.60 236.41,925.61 234.90,925.62 233.40,925.63 231.89,925.64 230.39,925.66 228.88,925.67 227.37,925.68 225.87,925.69 224.36,925.71 222.86,925.72 221.35,925.73 219.85,925.75 218.35,925.76 216.84,925.78 215.34,925.79 213.83,925.80 212.33,925.82 210.83,925.84 209.33,925.85 207.82,925.87 206.32,925.88 204.82,925.90 203.31,925.92 201.81,925.93 200.31,925.95 198.81,925.97 197.30,925.99 195.80,926.00 194.30,926.02 192.80,926.04 191.30,926.06 189.79,926.08 188.29,926.10 186.79,926.12 185.29,926.14 183.79,926.16 182.28,926.18 180.78,926.20 179.28,926.22 177.78,926.25 176.28,926.27 174.77,926.29 173.27,926.32 171.77,926.34 170.27,926.36 168.76,926.39 167.26,926.41 165.76,926.44 164.26,926.46 162.75,926.49 161.25,926.51 159.75,926.54 158.24,926.57 156.74,926.59 155.24,926.62 153.73,926.65 152.23,926.68 150.72,926.71 149.22,926.74 147.71,926.77 146.21,926.80 144.70,926.83 143.20,926.86 141.69,926.89 140.19,926.92 138.68,926.95 137.17,926.99 135.67,927.02 134.16,927.05 132.65,927.09 131.14,927.12 129.64,927.16 128.13,927.19 126.62,927.23 125.11,927.26 123.60,927.30" stroke="#f00" stroke-width="3.5" fill="none" stroke-linejoin="round"/><line x1="89.3" y1="839.1" x2="547.9" y2="839.1" stroke="#000" stroke-width="1.9" stroke-dasharray="9.1 7.53"/><text x="116.6" y="639.7" font-size="36" textLength="50.6" lengthAdjust="spacing">(B)</text>
<text x="464" y="558.1" text-anchor="middle" font-size="36.4" font-weight="bold">E (V vs SCE)</text>
<text x="464" y="1147.5" text-anchor="middle" font-size="36.4" font-weight="bold">E (V vs SCE)</text>
<text transform="translate(33.8,456.6) rotate(-90)" font-size="36" font-weight="bold">Current Density (mA cm<tspan font-size="22" dy="-17">-2</tspan><tspan dy="17">)</tspan></text>
<text transform="translate(37.0,1044.1) rotate(-90)" font-size="36" font-weight="bold">Current Density (mA cm<tspan font-size="22" dy="-17">-2</tspan><tspan dy="17">)</tspan></text>
</svg>
</body></html>
